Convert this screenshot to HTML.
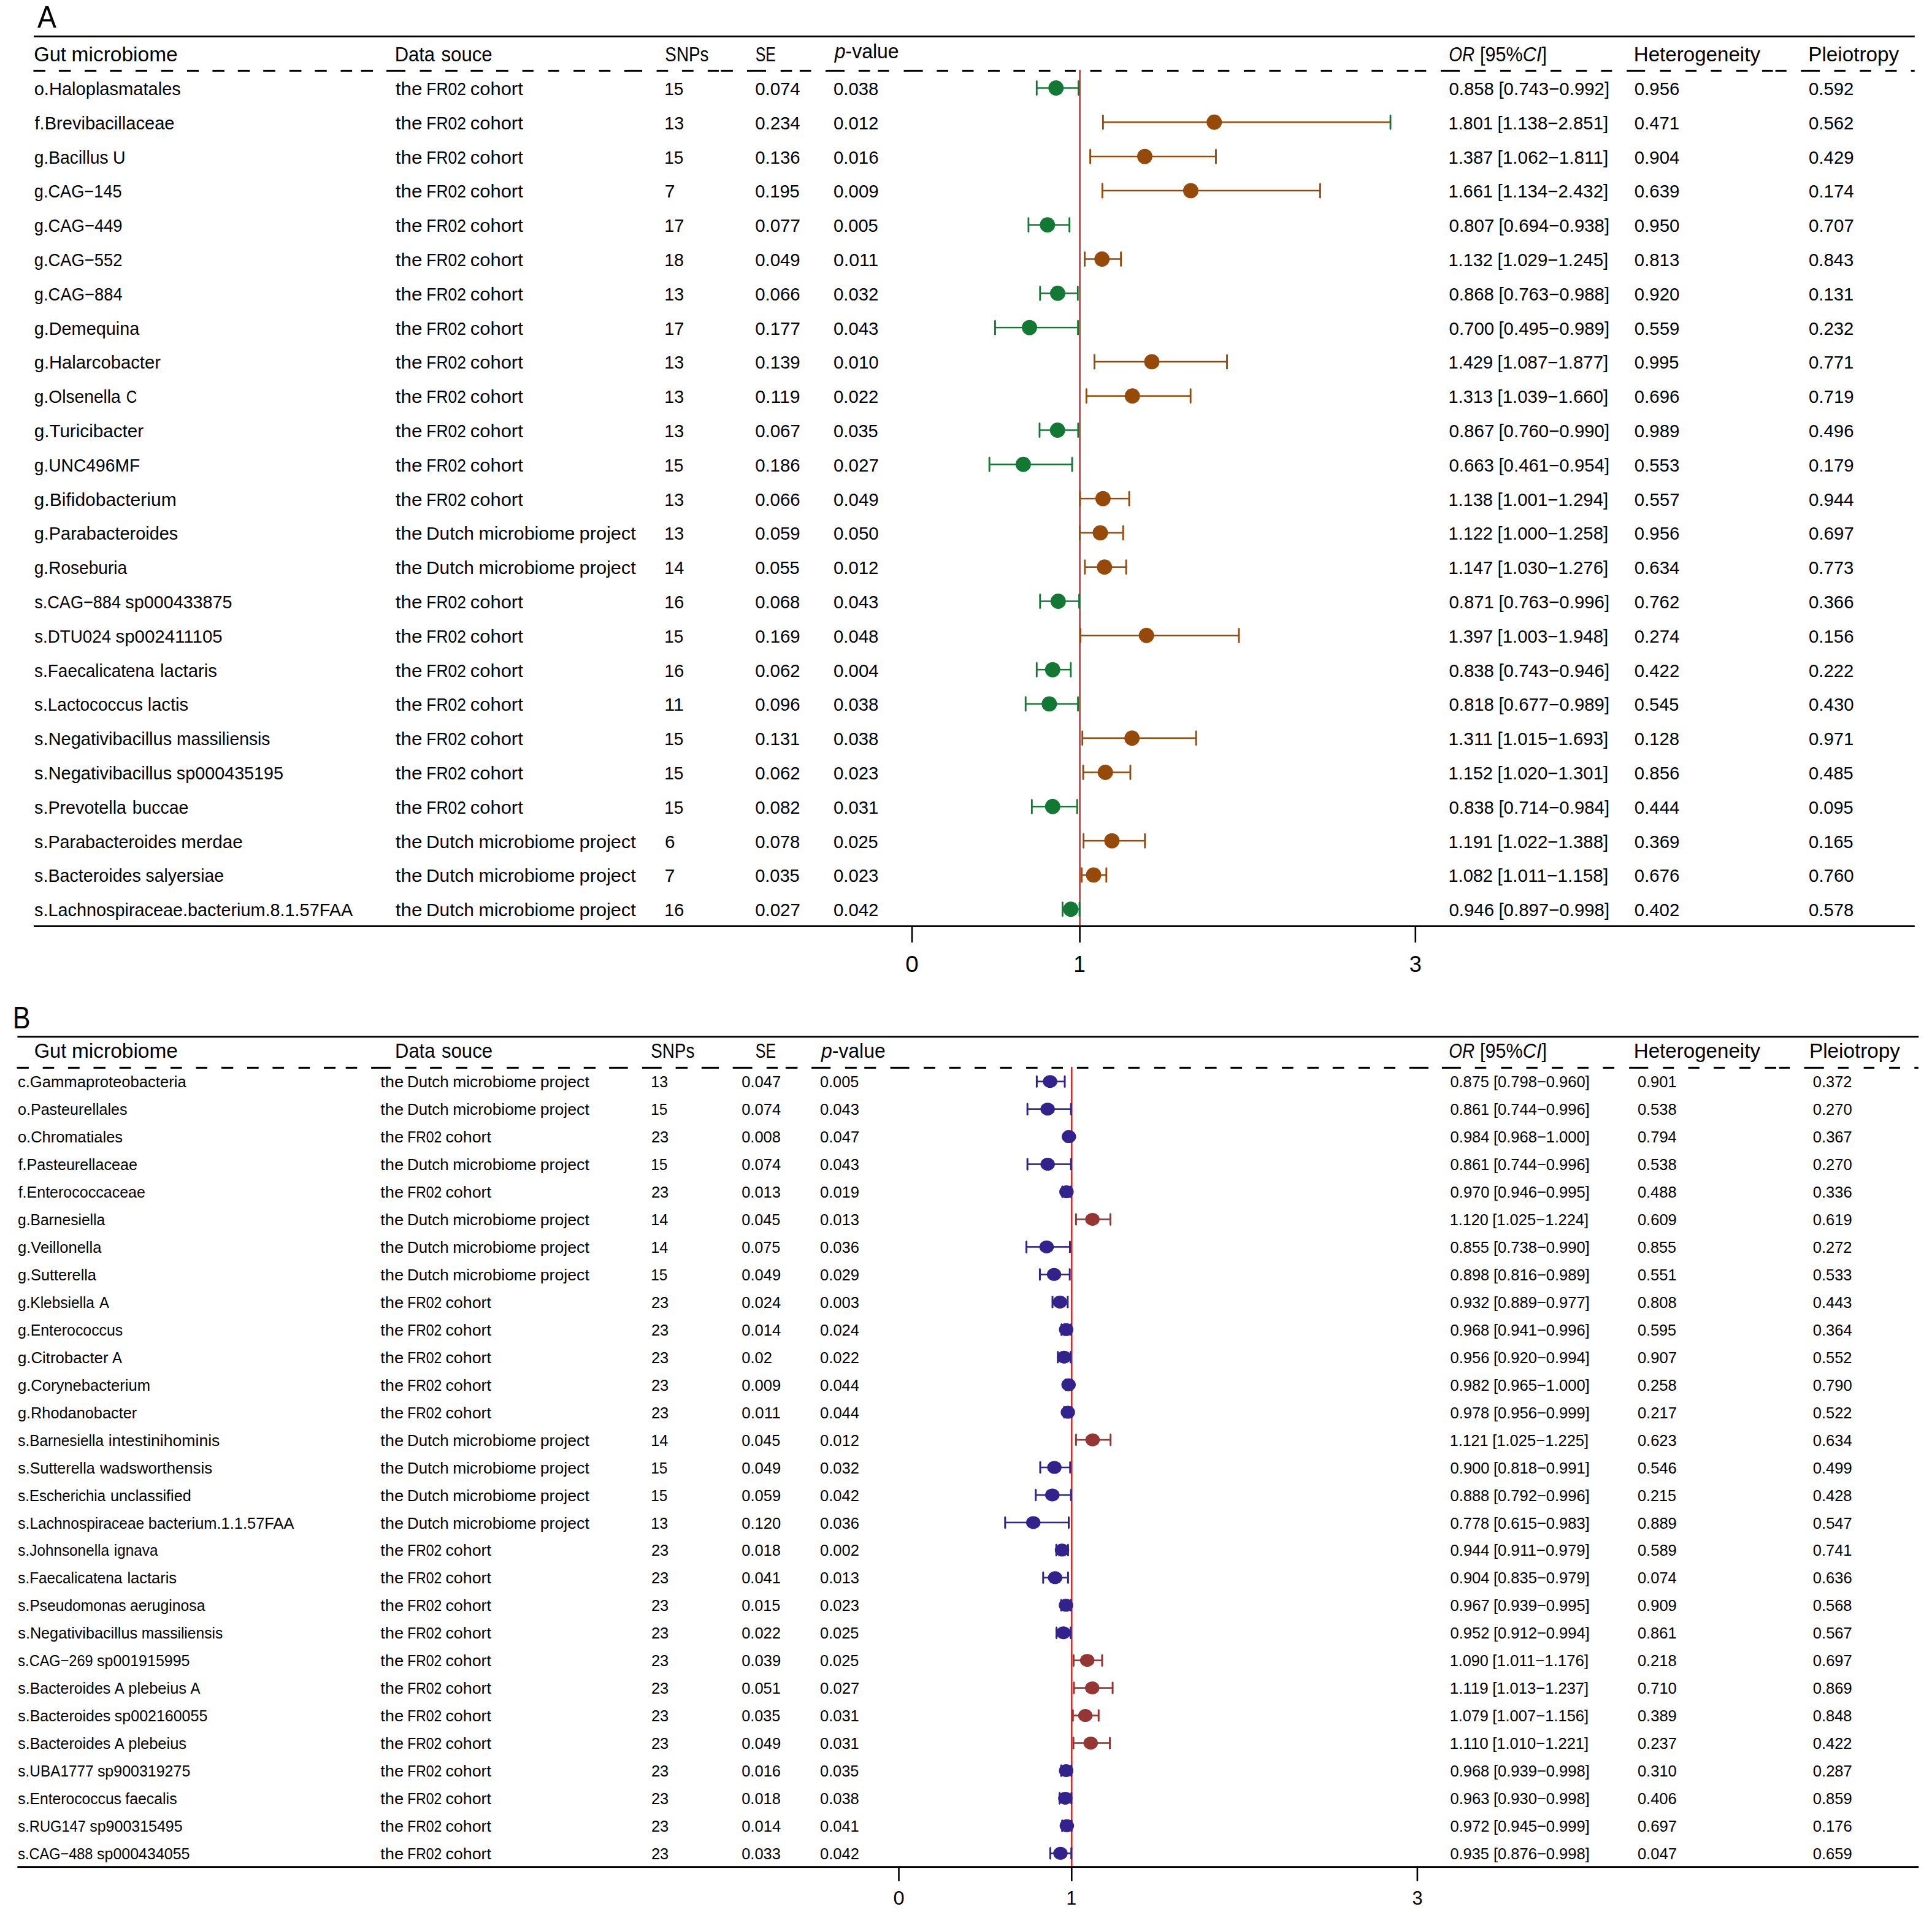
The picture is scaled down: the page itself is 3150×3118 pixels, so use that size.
<!DOCTYPE html>
<html><head><meta charset="utf-8"><title>Forest plot</title>
<style>html,body{margin:0;padding:0;background:#fff;}svg{display:block;}text{font-family:"Liberation Sans", sans-serif;}</style>
</head><body>
<svg width="3150" height="3118" viewBox="0 0 3150 3118">
<rect width="3150" height="3118" fill="#fff"/>
<text x="60.91" y="44.80" font-size="50.17" textLength="30.92" lengthAdjust="spacingAndGlyphs" fill="#000">A</text>
<rect x="55.00" y="57.95" width="3066.80" height="2.90" fill="#000"/>
<text x="55.36" y="100.20" font-size="32.92" textLength="52.57" lengthAdjust="spacingAndGlyphs" fill="#000">Gut</text>
<text x="116.60" y="100.20" font-size="32.92" textLength="173.08" lengthAdjust="spacingAndGlyphs" fill="#000">microbiome</text>
<text x="643.66" y="100.20" font-size="32.92" textLength="65.33" lengthAdjust="spacingAndGlyphs" fill="#000">Data</text>
<text x="719.48" y="100.20" font-size="32.92" textLength="83.23" lengthAdjust="spacingAndGlyphs" fill="#000">souce</text>
<text x="1084.34" y="100.20" font-size="32.92" textLength="71.18" lengthAdjust="spacingAndGlyphs" fill="#000">SNPs</text>
<text x="1231.67" y="100.20" font-size="32.92" textLength="33.23" lengthAdjust="spacingAndGlyphs" fill="#000">SE</text>
<text x="1360.80" y="95.40" font-size="32.92" textLength="104.80" lengthAdjust="spacingAndGlyphs" fill="#000"><tspan font-style="italic">p</tspan>-value</text>
<text x="2362.29" y="100.20" font-size="32.92" textLength="41.77" lengthAdjust="spacingAndGlyphs" fill="#000"><tspan font-style="italic">OR</tspan></text>
<text x="2413.07" y="100.20" font-size="32.92" textLength="108.85" lengthAdjust="spacingAndGlyphs" fill="#000">[95%<tspan font-style="italic">CI</tspan>]</text>
<text x="2663.78" y="100.20" font-size="32.92" textLength="206.19" lengthAdjust="spacingAndGlyphs" fill="#000">Heterogeneity</text>
<text x="2948.27" y="100.20" font-size="32.92" textLength="147.91" lengthAdjust="spacingAndGlyphs" fill="#000">Pleiotropy</text>
<rect x="54.50" y="113.90" width="19.50" height="3.00" fill="#000"/>
<rect x="95.90" y="113.90" width="19.50" height="3.00" fill="#000"/>
<rect x="138.10" y="113.90" width="19.10" height="3.00" fill="#000"/>
<rect x="179.50" y="113.90" width="19.10" height="3.00" fill="#000"/>
<rect x="221.00" y="113.90" width="19.00" height="3.00" fill="#000"/>
<rect x="262.80" y="113.90" width="19.40" height="3.00" fill="#000"/>
<rect x="305.00" y="113.90" width="19.00" height="3.00" fill="#000"/>
<rect x="346.40" y="113.90" width="19.50" height="3.00" fill="#000"/>
<rect x="387.80" y="113.90" width="19.50" height="3.00" fill="#000"/>
<rect x="429.20" y="113.90" width="19.50" height="3.00" fill="#000"/>
<rect x="471.90" y="113.90" width="19.50" height="3.00" fill="#000"/>
<rect x="513.30" y="113.90" width="19.40" height="3.00" fill="#000"/>
<rect x="555.50" y="113.90" width="18.60" height="3.00" fill="#000"/>
<rect x="588.60" y="113.90" width="19.40" height="3.00" fill="#000"/>
<rect x="630.00" y="113.90" width="31.00" height="3.00" fill="#000"/>
<rect x="684.50" y="113.90" width="19.10" height="3.00" fill="#000"/>
<rect x="726.10" y="113.90" width="19.80" height="3.00" fill="#000"/>
<rect x="767.50" y="113.90" width="19.90" height="3.00" fill="#000"/>
<rect x="808.90" y="113.90" width="19.90" height="3.00" fill="#000"/>
<rect x="851.60" y="113.90" width="18.20" height="3.00" fill="#000"/>
<rect x="893.80" y="113.90" width="17.80" height="3.00" fill="#000"/>
<rect x="935.20" y="113.90" width="18.70" height="3.00" fill="#000"/>
<rect x="976.60" y="113.90" width="18.70" height="3.00" fill="#000"/>
<rect x="1018.00" y="113.90" width="29.00" height="3.00" fill="#000"/>
<rect x="1070.60" y="113.90" width="18.70" height="3.00" fill="#000"/>
<rect x="1112.00" y="113.90" width="18.70" height="3.00" fill="#000"/>
<rect x="1153.90" y="113.90" width="18.10" height="3.00" fill="#000"/>
<rect x="1175.40" y="113.90" width="19.50" height="3.00" fill="#000"/>
<rect x="1218.00" y="113.90" width="31.00" height="3.00" fill="#000"/>
<rect x="1272.70" y="113.90" width="18.60" height="3.00" fill="#000"/>
<rect x="1303.80" y="113.90" width="18.60" height="3.00" fill="#000"/>
<rect x="1346.00" y="113.90" width="31.00" height="3.00" fill="#000"/>
<rect x="1399.80" y="113.90" width="18.70" height="3.00" fill="#000"/>
<rect x="1431.30" y="113.90" width="18.20" height="3.00" fill="#000"/>
<rect x="1473.50" y="113.90" width="31.10" height="3.00" fill="#000"/>
<rect x="1527.40" y="113.90" width="18.60" height="3.00" fill="#000"/>
<rect x="1568.80" y="113.90" width="18.60" height="3.00" fill="#000"/>
<rect x="1611.00" y="113.90" width="19.00" height="3.00" fill="#000"/>
<rect x="1652.40" y="113.90" width="18.60" height="3.00" fill="#000"/>
<rect x="1693.80" y="113.90" width="18.70" height="3.00" fill="#000"/>
<rect x="1736.00" y="113.90" width="17.90" height="3.00" fill="#000"/>
<rect x="1777.50" y="113.90" width="18.50" height="3.00" fill="#000"/>
<rect x="1818.90" y="113.90" width="19.10" height="3.00" fill="#000"/>
<rect x="1861.50" y="113.90" width="18.50" height="3.00" fill="#000"/>
<rect x="1903.00" y="113.90" width="18.60" height="3.00" fill="#000"/>
<rect x="1944.30" y="113.90" width="18.70" height="3.00" fill="#000"/>
<rect x="1985.80" y="113.90" width="18.60" height="3.00" fill="#000"/>
<rect x="2028.00" y="113.90" width="18.60" height="3.00" fill="#000"/>
<rect x="2069.40" y="113.90" width="18.60" height="3.00" fill="#000"/>
<rect x="2112.00" y="113.90" width="18.60" height="3.00" fill="#000"/>
<rect x="2153.50" y="113.90" width="18.50" height="3.00" fill="#000"/>
<rect x="2195.00" y="113.90" width="18.50" height="3.00" fill="#000"/>
<rect x="2236.30" y="113.90" width="18.70" height="3.00" fill="#000"/>
<rect x="2277.70" y="113.90" width="18.60" height="3.00" fill="#000"/>
<rect x="2306.70" y="113.90" width="18.60" height="3.00" fill="#000"/>
<rect x="2349.00" y="113.90" width="31.00" height="3.00" fill="#000"/>
<rect x="2404.00" y="113.90" width="18.60" height="3.00" fill="#000"/>
<rect x="2445.80" y="113.90" width="17.50" height="3.00" fill="#000"/>
<rect x="2487.30" y="113.90" width="17.50" height="3.00" fill="#000"/>
<rect x="2528.10" y="113.90" width="17.50" height="3.00" fill="#000"/>
<rect x="2569.60" y="113.90" width="17.90" height="3.00" fill="#000"/>
<rect x="2610.40" y="113.90" width="17.90" height="3.00" fill="#000"/>
<rect x="2652.30" y="113.90" width="29.90" height="3.00" fill="#000"/>
<rect x="2706.70" y="113.90" width="17.50" height="3.00" fill="#000"/>
<rect x="2748.20" y="113.90" width="17.90" height="3.00" fill="#000"/>
<rect x="2789.40" y="113.90" width="17.40" height="3.00" fill="#000"/>
<rect x="2830.90" y="113.90" width="18.50" height="3.00" fill="#000"/>
<rect x="2873.00" y="113.90" width="17.60" height="3.00" fill="#000"/>
<rect x="2894.60" y="113.90" width="18.10" height="3.00" fill="#000"/>
<rect x="2936.30" y="113.90" width="31.00" height="3.00" fill="#000"/>
<rect x="2990.60" y="113.90" width="18.40" height="3.00" fill="#000"/>
<rect x="3032.30" y="113.90" width="18.50" height="3.00" fill="#000"/>
<rect x="3074.00" y="113.90" width="18.50" height="3.00" fill="#000"/>
<rect x="3115.70" y="113.90" width="6.00" height="3.00" fill="#000"/>
<text x="55.68" y="155.00" font-size="29.84" textLength="239.18" lengthAdjust="spacingAndGlyphs" fill="#000">o.Haloplasmatales</text>
<text x="644.72" y="155.00" font-size="29.84" textLength="43.64" lengthAdjust="spacingAndGlyphs" fill="#000">the</text>
<text x="695.35" y="155.00" font-size="29.84" textLength="64.49" lengthAdjust="spacingAndGlyphs" fill="#000">FR02</text>
<text x="766.87" y="155.00" font-size="29.84" textLength="85.87" lengthAdjust="spacingAndGlyphs" fill="#000">cohort</text>
<text x="1083.27" y="155.00" font-size="29.84" textLength="31.08" lengthAdjust="spacingAndGlyphs" fill="#000">15</text>
<text x="1231.15" y="155.00" font-size="29.84" textLength="73.60" lengthAdjust="spacingAndGlyphs" fill="#000">0.074</text>
<text x="1359.06" y="155.00" font-size="29.84" textLength="73.26" lengthAdjust="spacingAndGlyphs" fill="#000">0.038</text>
<text x="2362.56" y="155.00" font-size="29.84" textLength="73.26" lengthAdjust="spacingAndGlyphs" fill="#000">0.858</text>
<text x="2443.46" y="155.00" font-size="29.84" textLength="180.66" lengthAdjust="spacingAndGlyphs" fill="#000">[0.743−0.992]</text>
<text x="2664.85" y="155.00" font-size="29.84" textLength="73.45" lengthAdjust="spacingAndGlyphs" fill="#000">0.956</text>
<text x="2949.05" y="155.00" font-size="29.84" textLength="73.39" lengthAdjust="spacingAndGlyphs" fill="#000">0.592</text>
<text x="56.49" y="210.80" font-size="29.84" textLength="228.03" lengthAdjust="spacingAndGlyphs" fill="#000">f.Brevibacillaceae</text>
<text x="644.72" y="210.80" font-size="29.84" textLength="43.64" lengthAdjust="spacingAndGlyphs" fill="#000">the</text>
<text x="695.35" y="210.80" font-size="29.84" textLength="64.49" lengthAdjust="spacingAndGlyphs" fill="#000">FR02</text>
<text x="766.87" y="210.80" font-size="29.84" textLength="85.87" lengthAdjust="spacingAndGlyphs" fill="#000">cohort</text>
<text x="1083.22" y="210.80" font-size="29.84" textLength="31.90" lengthAdjust="spacingAndGlyphs" fill="#000">13</text>
<text x="1231.15" y="210.80" font-size="29.84" textLength="73.60" lengthAdjust="spacingAndGlyphs" fill="#000">0.234</text>
<text x="1359.05" y="210.80" font-size="29.84" textLength="73.39" lengthAdjust="spacingAndGlyphs" fill="#000">0.012</text>
<text x="2361.50" y="210.80" font-size="29.84" textLength="72.36" lengthAdjust="spacingAndGlyphs" fill="#000">1.801</text>
<text x="2441.53" y="210.80" font-size="29.84" textLength="180.66" lengthAdjust="spacingAndGlyphs" fill="#000">[1.138−2.851]</text>
<text x="2664.86" y="210.80" font-size="29.84" textLength="73.26" lengthAdjust="spacingAndGlyphs" fill="#000">0.471</text>
<text x="2949.05" y="210.80" font-size="29.84" textLength="73.39" lengthAdjust="spacingAndGlyphs" fill="#000">0.562</text>
<text x="55.71" y="266.60" font-size="29.84" textLength="120.89" lengthAdjust="spacingAndGlyphs" fill="#000">g.Bacillus</text>
<text x="183.89" y="266.60" font-size="29.84" textLength="20.55" lengthAdjust="spacingAndGlyphs" fill="#000">U</text>
<text x="644.72" y="266.60" font-size="29.84" textLength="43.64" lengthAdjust="spacingAndGlyphs" fill="#000">the</text>
<text x="695.35" y="266.60" font-size="29.84" textLength="64.49" lengthAdjust="spacingAndGlyphs" fill="#000">FR02</text>
<text x="766.87" y="266.60" font-size="29.84" textLength="85.87" lengthAdjust="spacingAndGlyphs" fill="#000">cohort</text>
<text x="1083.27" y="266.60" font-size="29.84" textLength="31.08" lengthAdjust="spacingAndGlyphs" fill="#000">15</text>
<text x="1231.15" y="266.60" font-size="29.84" textLength="73.45" lengthAdjust="spacingAndGlyphs" fill="#000">0.136</text>
<text x="1359.05" y="266.60" font-size="29.84" textLength="73.45" lengthAdjust="spacingAndGlyphs" fill="#000">0.016</text>
<text x="2361.48" y="266.60" font-size="29.84" textLength="72.84" lengthAdjust="spacingAndGlyphs" fill="#000">1.387</text>
<text x="2441.53" y="266.60" font-size="29.84" textLength="180.66" lengthAdjust="spacingAndGlyphs" fill="#000">[1.062−1.811]</text>
<text x="2664.85" y="266.60" font-size="29.84" textLength="73.60" lengthAdjust="spacingAndGlyphs" fill="#000">0.904</text>
<text x="2949.05" y="266.60" font-size="29.84" textLength="73.57" lengthAdjust="spacingAndGlyphs" fill="#000">0.429</text>
<text x="55.76" y="322.40" font-size="29.84" textLength="142.89" lengthAdjust="spacingAndGlyphs" fill="#000">g.CAG−145</text>
<text x="644.72" y="322.40" font-size="29.84" textLength="43.64" lengthAdjust="spacingAndGlyphs" fill="#000">the</text>
<text x="695.35" y="322.40" font-size="29.84" textLength="64.49" lengthAdjust="spacingAndGlyphs" fill="#000">FR02</text>
<text x="766.87" y="322.40" font-size="29.84" textLength="85.87" lengthAdjust="spacingAndGlyphs" fill="#000">cohort</text>
<text x="1083.86" y="322.40" font-size="29.84" textLength="16.71" lengthAdjust="spacingAndGlyphs" fill="#000">7</text>
<text x="1231.17" y="322.40" font-size="29.84" textLength="72.59" lengthAdjust="spacingAndGlyphs" fill="#000">0.195</text>
<text x="1359.05" y="322.40" font-size="29.84" textLength="73.57" lengthAdjust="spacingAndGlyphs" fill="#000">0.009</text>
<text x="2361.50" y="322.40" font-size="29.84" textLength="72.36" lengthAdjust="spacingAndGlyphs" fill="#000">1.661</text>
<text x="2441.53" y="322.40" font-size="29.84" textLength="180.66" lengthAdjust="spacingAndGlyphs" fill="#000">[1.134−2.432]</text>
<text x="2664.85" y="322.40" font-size="29.84" textLength="73.57" lengthAdjust="spacingAndGlyphs" fill="#000">0.639</text>
<text x="2949.05" y="322.40" font-size="29.84" textLength="73.60" lengthAdjust="spacingAndGlyphs" fill="#000">0.174</text>
<text x="55.75" y="378.20" font-size="29.84" textLength="143.85" lengthAdjust="spacingAndGlyphs" fill="#000">g.CAG−449</text>
<text x="644.72" y="378.20" font-size="29.84" textLength="43.64" lengthAdjust="spacingAndGlyphs" fill="#000">the</text>
<text x="695.35" y="378.20" font-size="29.84" textLength="64.49" lengthAdjust="spacingAndGlyphs" fill="#000">FR02</text>
<text x="766.87" y="378.20" font-size="29.84" textLength="85.87" lengthAdjust="spacingAndGlyphs" fill="#000">cohort</text>
<text x="1083.19" y="378.20" font-size="29.84" textLength="32.31" lengthAdjust="spacingAndGlyphs" fill="#000">17</text>
<text x="1231.15" y="378.20" font-size="29.84" textLength="73.73" lengthAdjust="spacingAndGlyphs" fill="#000">0.077</text>
<text x="1359.07" y="378.20" font-size="29.84" textLength="72.59" lengthAdjust="spacingAndGlyphs" fill="#000">0.005</text>
<text x="2362.55" y="378.20" font-size="29.84" textLength="73.73" lengthAdjust="spacingAndGlyphs" fill="#000">0.807</text>
<text x="2443.46" y="378.20" font-size="29.84" textLength="180.66" lengthAdjust="spacingAndGlyphs" fill="#000">[0.694−0.938]</text>
<text x="2664.85" y="378.20" font-size="29.84" textLength="73.59" lengthAdjust="spacingAndGlyphs" fill="#000">0.950</text>
<text x="2949.05" y="378.20" font-size="29.84" textLength="73.73" lengthAdjust="spacingAndGlyphs" fill="#000">0.707</text>
<text x="55.75" y="434.00" font-size="29.84" textLength="143.66" lengthAdjust="spacingAndGlyphs" fill="#000">g.CAG−552</text>
<text x="644.72" y="434.00" font-size="29.84" textLength="43.64" lengthAdjust="spacingAndGlyphs" fill="#000">the</text>
<text x="695.35" y="434.00" font-size="29.84" textLength="64.49" lengthAdjust="spacingAndGlyphs" fill="#000">FR02</text>
<text x="766.87" y="434.00" font-size="29.84" textLength="85.87" lengthAdjust="spacingAndGlyphs" fill="#000">cohort</text>
<text x="1083.22" y="434.00" font-size="29.84" textLength="31.81" lengthAdjust="spacingAndGlyphs" fill="#000">18</text>
<text x="1231.15" y="434.00" font-size="29.84" textLength="73.57" lengthAdjust="spacingAndGlyphs" fill="#000">0.049</text>
<text x="1359.06" y="434.00" font-size="29.84" textLength="73.26" lengthAdjust="spacingAndGlyphs" fill="#000">0.011</text>
<text x="2361.49" y="434.00" font-size="29.84" textLength="72.49" lengthAdjust="spacingAndGlyphs" fill="#000">1.132</text>
<text x="2441.53" y="434.00" font-size="29.84" textLength="180.66" lengthAdjust="spacingAndGlyphs" fill="#000">[1.029−1.245]</text>
<text x="2664.86" y="434.00" font-size="29.84" textLength="73.34" lengthAdjust="spacingAndGlyphs" fill="#000">0.813</text>
<text x="2949.06" y="434.00" font-size="29.84" textLength="73.34" lengthAdjust="spacingAndGlyphs" fill="#000">0.843</text>
<text x="55.75" y="489.80" font-size="29.84" textLength="143.92" lengthAdjust="spacingAndGlyphs" fill="#000">g.CAG−884</text>
<text x="644.72" y="489.80" font-size="29.84" textLength="43.64" lengthAdjust="spacingAndGlyphs" fill="#000">the</text>
<text x="695.35" y="489.80" font-size="29.84" textLength="64.49" lengthAdjust="spacingAndGlyphs" fill="#000">FR02</text>
<text x="766.87" y="489.80" font-size="29.84" textLength="85.87" lengthAdjust="spacingAndGlyphs" fill="#000">cohort</text>
<text x="1083.22" y="489.80" font-size="29.84" textLength="31.90" lengthAdjust="spacingAndGlyphs" fill="#000">13</text>
<text x="1231.15" y="489.80" font-size="29.84" textLength="73.45" lengthAdjust="spacingAndGlyphs" fill="#000">0.066</text>
<text x="1359.05" y="489.80" font-size="29.84" textLength="73.39" lengthAdjust="spacingAndGlyphs" fill="#000">0.032</text>
<text x="2362.56" y="489.80" font-size="29.84" textLength="73.26" lengthAdjust="spacingAndGlyphs" fill="#000">0.868</text>
<text x="2443.46" y="489.80" font-size="29.84" textLength="180.66" lengthAdjust="spacingAndGlyphs" fill="#000">[0.763−0.988]</text>
<text x="2664.85" y="489.80" font-size="29.84" textLength="73.59" lengthAdjust="spacingAndGlyphs" fill="#000">0.920</text>
<text x="2949.06" y="489.80" font-size="29.84" textLength="73.26" lengthAdjust="spacingAndGlyphs" fill="#000">0.131</text>
<text x="55.69" y="545.60" font-size="29.84" textLength="171.59" lengthAdjust="spacingAndGlyphs" fill="#000">g.Demequina</text>
<text x="644.72" y="545.60" font-size="29.84" textLength="43.64" lengthAdjust="spacingAndGlyphs" fill="#000">the</text>
<text x="695.35" y="545.60" font-size="29.84" textLength="64.49" lengthAdjust="spacingAndGlyphs" fill="#000">FR02</text>
<text x="766.87" y="545.60" font-size="29.84" textLength="85.87" lengthAdjust="spacingAndGlyphs" fill="#000">cohort</text>
<text x="1083.19" y="545.60" font-size="29.84" textLength="32.31" lengthAdjust="spacingAndGlyphs" fill="#000">17</text>
<text x="1231.15" y="545.60" font-size="29.84" textLength="73.73" lengthAdjust="spacingAndGlyphs" fill="#000">0.177</text>
<text x="1359.06" y="545.60" font-size="29.84" textLength="73.34" lengthAdjust="spacingAndGlyphs" fill="#000">0.043</text>
<text x="2362.55" y="545.60" font-size="29.84" textLength="73.59" lengthAdjust="spacingAndGlyphs" fill="#000">0.700</text>
<text x="2443.46" y="545.60" font-size="29.84" textLength="180.66" lengthAdjust="spacingAndGlyphs" fill="#000">[0.495−0.989]</text>
<text x="2664.85" y="545.60" font-size="29.84" textLength="73.57" lengthAdjust="spacingAndGlyphs" fill="#000">0.559</text>
<text x="2949.05" y="545.60" font-size="29.84" textLength="73.39" lengthAdjust="spacingAndGlyphs" fill="#000">0.232</text>
<text x="55.67" y="601.40" font-size="29.84" textLength="206.20" lengthAdjust="spacingAndGlyphs" fill="#000">g.Halarcobacter</text>
<text x="644.72" y="601.40" font-size="29.84" textLength="43.64" lengthAdjust="spacingAndGlyphs" fill="#000">the</text>
<text x="695.35" y="601.40" font-size="29.84" textLength="64.49" lengthAdjust="spacingAndGlyphs" fill="#000">FR02</text>
<text x="766.87" y="601.40" font-size="29.84" textLength="85.87" lengthAdjust="spacingAndGlyphs" fill="#000">cohort</text>
<text x="1083.22" y="601.40" font-size="29.84" textLength="31.90" lengthAdjust="spacingAndGlyphs" fill="#000">13</text>
<text x="1231.15" y="601.40" font-size="29.84" textLength="73.57" lengthAdjust="spacingAndGlyphs" fill="#000">0.139</text>
<text x="1359.05" y="601.40" font-size="29.84" textLength="73.59" lengthAdjust="spacingAndGlyphs" fill="#000">0.010</text>
<text x="2361.49" y="601.40" font-size="29.84" textLength="72.68" lengthAdjust="spacingAndGlyphs" fill="#000">1.429</text>
<text x="2441.53" y="601.40" font-size="29.84" textLength="180.66" lengthAdjust="spacingAndGlyphs" fill="#000">[1.087−1.877]</text>
<text x="2664.87" y="601.40" font-size="29.84" textLength="72.59" lengthAdjust="spacingAndGlyphs" fill="#000">0.995</text>
<text x="2949.06" y="601.40" font-size="29.84" textLength="73.26" lengthAdjust="spacingAndGlyphs" fill="#000">0.771</text>
<text x="55.72" y="657.20" font-size="29.84" textLength="141.07" lengthAdjust="spacingAndGlyphs" fill="#000">g.Olsenella</text>
<text x="205.81" y="657.20" font-size="29.84" textLength="17.55" lengthAdjust="spacingAndGlyphs" fill="#000">C</text>
<text x="644.72" y="657.20" font-size="29.84" textLength="43.64" lengthAdjust="spacingAndGlyphs" fill="#000">the</text>
<text x="695.35" y="657.20" font-size="29.84" textLength="64.49" lengthAdjust="spacingAndGlyphs" fill="#000">FR02</text>
<text x="766.87" y="657.20" font-size="29.84" textLength="85.87" lengthAdjust="spacingAndGlyphs" fill="#000">cohort</text>
<text x="1083.22" y="657.20" font-size="29.84" textLength="31.90" lengthAdjust="spacingAndGlyphs" fill="#000">13</text>
<text x="1231.15" y="657.20" font-size="29.84" textLength="73.57" lengthAdjust="spacingAndGlyphs" fill="#000">0.119</text>
<text x="1359.05" y="657.20" font-size="29.84" textLength="73.39" lengthAdjust="spacingAndGlyphs" fill="#000">0.022</text>
<text x="2361.49" y="657.20" font-size="29.84" textLength="72.45" lengthAdjust="spacingAndGlyphs" fill="#000">1.313</text>
<text x="2441.53" y="657.20" font-size="29.84" textLength="180.66" lengthAdjust="spacingAndGlyphs" fill="#000">[1.039−1.660]</text>
<text x="2664.85" y="657.20" font-size="29.84" textLength="73.45" lengthAdjust="spacingAndGlyphs" fill="#000">0.696</text>
<text x="2949.05" y="657.20" font-size="29.84" textLength="73.57" lengthAdjust="spacingAndGlyphs" fill="#000">0.719</text>
<text x="55.66" y="713.00" font-size="29.84" textLength="178.49" lengthAdjust="spacingAndGlyphs" fill="#000">g.Turicibacter</text>
<text x="644.72" y="713.00" font-size="29.84" textLength="43.64" lengthAdjust="spacingAndGlyphs" fill="#000">the</text>
<text x="695.35" y="713.00" font-size="29.84" textLength="64.49" lengthAdjust="spacingAndGlyphs" fill="#000">FR02</text>
<text x="766.87" y="713.00" font-size="29.84" textLength="85.87" lengthAdjust="spacingAndGlyphs" fill="#000">cohort</text>
<text x="1083.22" y="713.00" font-size="29.84" textLength="31.90" lengthAdjust="spacingAndGlyphs" fill="#000">13</text>
<text x="1231.15" y="713.00" font-size="29.84" textLength="73.73" lengthAdjust="spacingAndGlyphs" fill="#000">0.067</text>
<text x="1359.07" y="713.00" font-size="29.84" textLength="72.59" lengthAdjust="spacingAndGlyphs" fill="#000">0.035</text>
<text x="2362.55" y="713.00" font-size="29.84" textLength="73.73" lengthAdjust="spacingAndGlyphs" fill="#000">0.867</text>
<text x="2443.46" y="713.00" font-size="29.84" textLength="180.66" lengthAdjust="spacingAndGlyphs" fill="#000">[0.760−0.990]</text>
<text x="2664.85" y="713.00" font-size="29.84" textLength="73.57" lengthAdjust="spacingAndGlyphs" fill="#000">0.989</text>
<text x="2949.05" y="713.00" font-size="29.84" textLength="73.45" lengthAdjust="spacingAndGlyphs" fill="#000">0.496</text>
<text x="55.71" y="768.80" font-size="29.84" textLength="172.50" lengthAdjust="spacingAndGlyphs" fill="#000">g.UNC496MF</text>
<text x="644.72" y="768.80" font-size="29.84" textLength="43.64" lengthAdjust="spacingAndGlyphs" fill="#000">the</text>
<text x="695.35" y="768.80" font-size="29.84" textLength="64.49" lengthAdjust="spacingAndGlyphs" fill="#000">FR02</text>
<text x="766.87" y="768.80" font-size="29.84" textLength="85.87" lengthAdjust="spacingAndGlyphs" fill="#000">cohort</text>
<text x="1083.27" y="768.80" font-size="29.84" textLength="31.08" lengthAdjust="spacingAndGlyphs" fill="#000">15</text>
<text x="1231.15" y="768.80" font-size="29.84" textLength="73.45" lengthAdjust="spacingAndGlyphs" fill="#000">0.186</text>
<text x="1359.05" y="768.80" font-size="29.84" textLength="73.73" lengthAdjust="spacingAndGlyphs" fill="#000">0.027</text>
<text x="2362.56" y="768.80" font-size="29.84" textLength="73.34" lengthAdjust="spacingAndGlyphs" fill="#000">0.663</text>
<text x="2443.46" y="768.80" font-size="29.84" textLength="180.66" lengthAdjust="spacingAndGlyphs" fill="#000">[0.461−0.954]</text>
<text x="2664.86" y="768.80" font-size="29.84" textLength="73.34" lengthAdjust="spacingAndGlyphs" fill="#000">0.553</text>
<text x="2949.05" y="768.80" font-size="29.84" textLength="73.57" lengthAdjust="spacingAndGlyphs" fill="#000">0.179</text>
<text x="55.64" y="824.60" font-size="29.84" textLength="232.07" lengthAdjust="spacingAndGlyphs" fill="#000">g.Bifidobacterium</text>
<text x="644.72" y="824.60" font-size="29.84" textLength="43.64" lengthAdjust="spacingAndGlyphs" fill="#000">the</text>
<text x="695.35" y="824.60" font-size="29.84" textLength="64.49" lengthAdjust="spacingAndGlyphs" fill="#000">FR02</text>
<text x="766.87" y="824.60" font-size="29.84" textLength="85.87" lengthAdjust="spacingAndGlyphs" fill="#000">cohort</text>
<text x="1083.22" y="824.60" font-size="29.84" textLength="31.90" lengthAdjust="spacingAndGlyphs" fill="#000">13</text>
<text x="1231.15" y="824.60" font-size="29.84" textLength="73.45" lengthAdjust="spacingAndGlyphs" fill="#000">0.066</text>
<text x="1359.05" y="824.60" font-size="29.84" textLength="73.57" lengthAdjust="spacingAndGlyphs" fill="#000">0.049</text>
<text x="2361.50" y="824.60" font-size="29.84" textLength="72.37" lengthAdjust="spacingAndGlyphs" fill="#000">1.138</text>
<text x="2441.53" y="824.60" font-size="29.84" textLength="180.66" lengthAdjust="spacingAndGlyphs" fill="#000">[1.001−1.294]</text>
<text x="2664.85" y="824.60" font-size="29.84" textLength="73.73" lengthAdjust="spacingAndGlyphs" fill="#000">0.557</text>
<text x="2949.05" y="824.60" font-size="29.84" textLength="73.60" lengthAdjust="spacingAndGlyphs" fill="#000">0.944</text>
<text x="55.69" y="880.40" font-size="29.84" textLength="234.60" lengthAdjust="spacingAndGlyphs" fill="#000">g.Parabacteroides</text>
<text x="644.72" y="880.40" font-size="29.84" textLength="43.64" lengthAdjust="spacingAndGlyphs" fill="#000">the</text>
<text x="695.08" y="880.40" font-size="29.84" textLength="77.82" lengthAdjust="spacingAndGlyphs" fill="#000">Dutch</text>
<text x="780.43" y="880.40" font-size="29.84" textLength="156.90" lengthAdjust="spacingAndGlyphs" fill="#000">microbiome</text>
<text x="944.60" y="880.40" font-size="29.84" textLength="92.11" lengthAdjust="spacingAndGlyphs" fill="#000">project</text>
<text x="1083.22" y="880.40" font-size="29.84" textLength="31.90" lengthAdjust="spacingAndGlyphs" fill="#000">13</text>
<text x="1231.15" y="880.40" font-size="29.84" textLength="73.57" lengthAdjust="spacingAndGlyphs" fill="#000">0.059</text>
<text x="1359.05" y="880.40" font-size="29.84" textLength="73.59" lengthAdjust="spacingAndGlyphs" fill="#000">0.050</text>
<text x="2361.49" y="880.40" font-size="29.84" textLength="72.49" lengthAdjust="spacingAndGlyphs" fill="#000">1.122</text>
<text x="2441.53" y="880.40" font-size="29.84" textLength="180.66" lengthAdjust="spacingAndGlyphs" fill="#000">[1.000−1.258]</text>
<text x="2664.85" y="880.40" font-size="29.84" textLength="73.45" lengthAdjust="spacingAndGlyphs" fill="#000">0.956</text>
<text x="2949.05" y="880.40" font-size="29.84" textLength="73.73" lengthAdjust="spacingAndGlyphs" fill="#000">0.697</text>
<text x="55.72" y="936.20" font-size="29.84" textLength="151.49" lengthAdjust="spacingAndGlyphs" fill="#000">g.Roseburia</text>
<text x="644.72" y="936.20" font-size="29.84" textLength="43.64" lengthAdjust="spacingAndGlyphs" fill="#000">the</text>
<text x="695.08" y="936.20" font-size="29.84" textLength="77.82" lengthAdjust="spacingAndGlyphs" fill="#000">Dutch</text>
<text x="780.43" y="936.20" font-size="29.84" textLength="156.90" lengthAdjust="spacingAndGlyphs" fill="#000">microbiome</text>
<text x="944.60" y="936.20" font-size="29.84" textLength="92.11" lengthAdjust="spacingAndGlyphs" fill="#000">project</text>
<text x="1083.20" y="936.20" font-size="29.84" textLength="32.19" lengthAdjust="spacingAndGlyphs" fill="#000">14</text>
<text x="1231.17" y="936.20" font-size="29.84" textLength="72.59" lengthAdjust="spacingAndGlyphs" fill="#000">0.055</text>
<text x="1359.05" y="936.20" font-size="29.84" textLength="73.39" lengthAdjust="spacingAndGlyphs" fill="#000">0.012</text>
<text x="2361.48" y="936.20" font-size="29.84" textLength="72.84" lengthAdjust="spacingAndGlyphs" fill="#000">1.147</text>
<text x="2441.53" y="936.20" font-size="29.84" textLength="180.66" lengthAdjust="spacingAndGlyphs" fill="#000">[1.030−1.276]</text>
<text x="2664.85" y="936.20" font-size="29.84" textLength="73.60" lengthAdjust="spacingAndGlyphs" fill="#000">0.634</text>
<text x="2949.06" y="936.20" font-size="29.84" textLength="73.34" lengthAdjust="spacingAndGlyphs" fill="#000">0.773</text>
<text x="56.15" y="992.00" font-size="29.84" textLength="140.88" lengthAdjust="spacingAndGlyphs" fill="#000">s.CAG−884</text>
<text x="204.29" y="992.00" font-size="29.84" textLength="174.32" lengthAdjust="spacingAndGlyphs" fill="#000">sp000433875</text>
<text x="644.72" y="992.00" font-size="29.84" textLength="43.64" lengthAdjust="spacingAndGlyphs" fill="#000">the</text>
<text x="695.35" y="992.00" font-size="29.84" textLength="64.49" lengthAdjust="spacingAndGlyphs" fill="#000">FR02</text>
<text x="766.87" y="992.00" font-size="29.84" textLength="85.87" lengthAdjust="spacingAndGlyphs" fill="#000">cohort</text>
<text x="1083.21" y="992.00" font-size="29.84" textLength="32.02" lengthAdjust="spacingAndGlyphs" fill="#000">16</text>
<text x="1231.16" y="992.00" font-size="29.84" textLength="73.26" lengthAdjust="spacingAndGlyphs" fill="#000">0.068</text>
<text x="1359.06" y="992.00" font-size="29.84" textLength="73.34" lengthAdjust="spacingAndGlyphs" fill="#000">0.043</text>
<text x="2362.56" y="992.00" font-size="29.84" textLength="73.26" lengthAdjust="spacingAndGlyphs" fill="#000">0.871</text>
<text x="2443.46" y="992.00" font-size="29.84" textLength="180.66" lengthAdjust="spacingAndGlyphs" fill="#000">[0.763−0.996]</text>
<text x="2664.85" y="992.00" font-size="29.84" textLength="73.39" lengthAdjust="spacingAndGlyphs" fill="#000">0.762</text>
<text x="2949.05" y="992.00" font-size="29.84" textLength="73.45" lengthAdjust="spacingAndGlyphs" fill="#000">0.366</text>
<text x="56.13" y="1047.80" font-size="29.84" textLength="125.02" lengthAdjust="spacingAndGlyphs" fill="#000">s.DTU024</text>
<text x="188.40" y="1047.80" font-size="29.84" textLength="174.32" lengthAdjust="spacingAndGlyphs" fill="#000">sp002411105</text>
<text x="644.72" y="1047.80" font-size="29.84" textLength="43.64" lengthAdjust="spacingAndGlyphs" fill="#000">the</text>
<text x="695.35" y="1047.80" font-size="29.84" textLength="64.49" lengthAdjust="spacingAndGlyphs" fill="#000">FR02</text>
<text x="766.87" y="1047.80" font-size="29.84" textLength="85.87" lengthAdjust="spacingAndGlyphs" fill="#000">cohort</text>
<text x="1083.27" y="1047.80" font-size="29.84" textLength="31.08" lengthAdjust="spacingAndGlyphs" fill="#000">15</text>
<text x="1231.15" y="1047.80" font-size="29.84" textLength="73.57" lengthAdjust="spacingAndGlyphs" fill="#000">0.169</text>
<text x="1359.06" y="1047.80" font-size="29.84" textLength="73.26" lengthAdjust="spacingAndGlyphs" fill="#000">0.048</text>
<text x="2361.48" y="1047.80" font-size="29.84" textLength="72.84" lengthAdjust="spacingAndGlyphs" fill="#000">1.397</text>
<text x="2441.53" y="1047.80" font-size="29.84" textLength="180.66" lengthAdjust="spacingAndGlyphs" fill="#000">[1.003−1.948]</text>
<text x="2664.85" y="1047.80" font-size="29.84" textLength="73.60" lengthAdjust="spacingAndGlyphs" fill="#000">0.274</text>
<text x="2949.05" y="1047.80" font-size="29.84" textLength="73.45" lengthAdjust="spacingAndGlyphs" fill="#000">0.156</text>
<text x="56.12" y="1103.60" font-size="29.84" textLength="195.45" lengthAdjust="spacingAndGlyphs" fill="#000">s.Faecalicatena</text>
<text x="261.09" y="1103.60" font-size="29.84" textLength="92.93" lengthAdjust="spacingAndGlyphs" fill="#000">lactaris</text>
<text x="644.72" y="1103.60" font-size="29.84" textLength="43.64" lengthAdjust="spacingAndGlyphs" fill="#000">the</text>
<text x="695.35" y="1103.60" font-size="29.84" textLength="64.49" lengthAdjust="spacingAndGlyphs" fill="#000">FR02</text>
<text x="766.87" y="1103.60" font-size="29.84" textLength="85.87" lengthAdjust="spacingAndGlyphs" fill="#000">cohort</text>
<text x="1083.21" y="1103.60" font-size="29.84" textLength="32.02" lengthAdjust="spacingAndGlyphs" fill="#000">16</text>
<text x="1231.15" y="1103.60" font-size="29.84" textLength="73.39" lengthAdjust="spacingAndGlyphs" fill="#000">0.062</text>
<text x="1359.05" y="1103.60" font-size="29.84" textLength="73.60" lengthAdjust="spacingAndGlyphs" fill="#000">0.004</text>
<text x="2362.56" y="1103.60" font-size="29.84" textLength="73.26" lengthAdjust="spacingAndGlyphs" fill="#000">0.838</text>
<text x="2443.46" y="1103.60" font-size="29.84" textLength="180.66" lengthAdjust="spacingAndGlyphs" fill="#000">[0.743−0.946]</text>
<text x="2664.85" y="1103.60" font-size="29.84" textLength="73.39" lengthAdjust="spacingAndGlyphs" fill="#000">0.422</text>
<text x="2949.05" y="1103.60" font-size="29.84" textLength="73.39" lengthAdjust="spacingAndGlyphs" fill="#000">0.222</text>
<text x="56.12" y="1159.40" font-size="29.84" textLength="176.91" lengthAdjust="spacingAndGlyphs" fill="#000">s.Lactococcus</text>
<text x="240.67" y="1159.40" font-size="29.84" textLength="66.42" lengthAdjust="spacingAndGlyphs" fill="#000">lactis</text>
<text x="644.72" y="1159.40" font-size="29.84" textLength="43.64" lengthAdjust="spacingAndGlyphs" fill="#000">the</text>
<text x="695.35" y="1159.40" font-size="29.84" textLength="64.49" lengthAdjust="spacingAndGlyphs" fill="#000">FR02</text>
<text x="766.87" y="1159.40" font-size="29.84" textLength="85.87" lengthAdjust="spacingAndGlyphs" fill="#000">cohort</text>
<text x="1083.22" y="1159.40" font-size="29.84" textLength="31.81" lengthAdjust="spacingAndGlyphs" fill="#000">11</text>
<text x="1231.15" y="1159.40" font-size="29.84" textLength="73.45" lengthAdjust="spacingAndGlyphs" fill="#000">0.096</text>
<text x="1359.06" y="1159.40" font-size="29.84" textLength="73.26" lengthAdjust="spacingAndGlyphs" fill="#000">0.038</text>
<text x="2362.56" y="1159.40" font-size="29.84" textLength="73.26" lengthAdjust="spacingAndGlyphs" fill="#000">0.818</text>
<text x="2443.46" y="1159.40" font-size="29.84" textLength="180.66" lengthAdjust="spacingAndGlyphs" fill="#000">[0.677−0.989]</text>
<text x="2664.87" y="1159.40" font-size="29.84" textLength="72.59" lengthAdjust="spacingAndGlyphs" fill="#000">0.545</text>
<text x="2949.05" y="1159.40" font-size="29.84" textLength="73.59" lengthAdjust="spacingAndGlyphs" fill="#000">0.430</text>
<text x="56.09" y="1215.20" font-size="29.84" textLength="224.14" lengthAdjust="spacingAndGlyphs" fill="#000">s.Negativibacillus</text>
<text x="287.91" y="1215.20" font-size="29.84" textLength="152.59" lengthAdjust="spacingAndGlyphs" fill="#000">massiliensis</text>
<text x="644.72" y="1215.20" font-size="29.84" textLength="43.64" lengthAdjust="spacingAndGlyphs" fill="#000">the</text>
<text x="695.35" y="1215.20" font-size="29.84" textLength="64.49" lengthAdjust="spacingAndGlyphs" fill="#000">FR02</text>
<text x="766.87" y="1215.20" font-size="29.84" textLength="85.87" lengthAdjust="spacingAndGlyphs" fill="#000">cohort</text>
<text x="1083.27" y="1215.20" font-size="29.84" textLength="31.08" lengthAdjust="spacingAndGlyphs" fill="#000">15</text>
<text x="1231.16" y="1215.20" font-size="29.84" textLength="73.26" lengthAdjust="spacingAndGlyphs" fill="#000">0.131</text>
<text x="1359.06" y="1215.20" font-size="29.84" textLength="73.26" lengthAdjust="spacingAndGlyphs" fill="#000">0.038</text>
<text x="2361.50" y="1215.20" font-size="29.84" textLength="72.36" lengthAdjust="spacingAndGlyphs" fill="#000">1.311</text>
<text x="2441.53" y="1215.20" font-size="29.84" textLength="180.66" lengthAdjust="spacingAndGlyphs" fill="#000">[1.015−1.693]</text>
<text x="2664.86" y="1215.20" font-size="29.84" textLength="73.26" lengthAdjust="spacingAndGlyphs" fill="#000">0.128</text>
<text x="2949.06" y="1215.20" font-size="29.84" textLength="73.26" lengthAdjust="spacingAndGlyphs" fill="#000">0.971</text>
<text x="56.09" y="1271.00" font-size="29.84" textLength="224.14" lengthAdjust="spacingAndGlyphs" fill="#000">s.Negativibacillus</text>
<text x="287.79" y="1271.00" font-size="29.84" textLength="174.32" lengthAdjust="spacingAndGlyphs" fill="#000">sp000435195</text>
<text x="644.72" y="1271.00" font-size="29.84" textLength="43.64" lengthAdjust="spacingAndGlyphs" fill="#000">the</text>
<text x="695.35" y="1271.00" font-size="29.84" textLength="64.49" lengthAdjust="spacingAndGlyphs" fill="#000">FR02</text>
<text x="766.87" y="1271.00" font-size="29.84" textLength="85.87" lengthAdjust="spacingAndGlyphs" fill="#000">cohort</text>
<text x="1083.27" y="1271.00" font-size="29.84" textLength="31.08" lengthAdjust="spacingAndGlyphs" fill="#000">15</text>
<text x="1231.15" y="1271.00" font-size="29.84" textLength="73.39" lengthAdjust="spacingAndGlyphs" fill="#000">0.062</text>
<text x="1359.06" y="1271.00" font-size="29.84" textLength="73.34" lengthAdjust="spacingAndGlyphs" fill="#000">0.023</text>
<text x="2361.49" y="1271.00" font-size="29.84" textLength="72.49" lengthAdjust="spacingAndGlyphs" fill="#000">1.152</text>
<text x="2441.53" y="1271.00" font-size="29.84" textLength="180.66" lengthAdjust="spacingAndGlyphs" fill="#000">[1.020−1.301]</text>
<text x="2664.85" y="1271.00" font-size="29.84" textLength="73.45" lengthAdjust="spacingAndGlyphs" fill="#000">0.856</text>
<text x="2949.07" y="1271.00" font-size="29.84" textLength="72.59" lengthAdjust="spacingAndGlyphs" fill="#000">0.485</text>
<text x="56.10" y="1326.80" font-size="29.84" textLength="149.92" lengthAdjust="spacingAndGlyphs" fill="#000">s.Prevotella</text>
<text x="215.65" y="1326.80" font-size="29.84" textLength="91.63" lengthAdjust="spacingAndGlyphs" fill="#000">buccae</text>
<text x="644.72" y="1326.80" font-size="29.84" textLength="43.64" lengthAdjust="spacingAndGlyphs" fill="#000">the</text>
<text x="695.35" y="1326.80" font-size="29.84" textLength="64.49" lengthAdjust="spacingAndGlyphs" fill="#000">FR02</text>
<text x="766.87" y="1326.80" font-size="29.84" textLength="85.87" lengthAdjust="spacingAndGlyphs" fill="#000">cohort</text>
<text x="1083.27" y="1326.80" font-size="29.84" textLength="31.08" lengthAdjust="spacingAndGlyphs" fill="#000">15</text>
<text x="1231.15" y="1326.80" font-size="29.84" textLength="73.39" lengthAdjust="spacingAndGlyphs" fill="#000">0.082</text>
<text x="1359.06" y="1326.80" font-size="29.84" textLength="73.26" lengthAdjust="spacingAndGlyphs" fill="#000">0.031</text>
<text x="2362.56" y="1326.80" font-size="29.84" textLength="73.26" lengthAdjust="spacingAndGlyphs" fill="#000">0.838</text>
<text x="2443.46" y="1326.80" font-size="29.84" textLength="180.66" lengthAdjust="spacingAndGlyphs" fill="#000">[0.714−0.984]</text>
<text x="2664.85" y="1326.80" font-size="29.84" textLength="73.60" lengthAdjust="spacingAndGlyphs" fill="#000">0.444</text>
<text x="2949.07" y="1326.80" font-size="29.84" textLength="72.59" lengthAdjust="spacingAndGlyphs" fill="#000">0.095</text>
<text x="56.10" y="1382.60" font-size="29.84" textLength="231.54" lengthAdjust="spacingAndGlyphs" fill="#000">s.Parabacteroides</text>
<text x="295.24" y="1382.60" font-size="29.84" textLength="100.54" lengthAdjust="spacingAndGlyphs" fill="#000">merdae</text>
<text x="644.72" y="1382.60" font-size="29.84" textLength="43.64" lengthAdjust="spacingAndGlyphs" fill="#000">the</text>
<text x="695.08" y="1382.60" font-size="29.84" textLength="77.82" lengthAdjust="spacingAndGlyphs" fill="#000">Dutch</text>
<text x="780.43" y="1382.60" font-size="29.84" textLength="156.90" lengthAdjust="spacingAndGlyphs" fill="#000">microbiome</text>
<text x="944.60" y="1382.60" font-size="29.84" textLength="92.11" lengthAdjust="spacingAndGlyphs" fill="#000">project</text>
<text x="1083.90" y="1382.60" font-size="29.84" textLength="16.48" lengthAdjust="spacingAndGlyphs" fill="#000">6</text>
<text x="1231.16" y="1382.60" font-size="29.84" textLength="73.26" lengthAdjust="spacingAndGlyphs" fill="#000">0.078</text>
<text x="1359.07" y="1382.60" font-size="29.84" textLength="72.59" lengthAdjust="spacingAndGlyphs" fill="#000">0.025</text>
<text x="2361.50" y="1382.60" font-size="29.84" textLength="72.36" lengthAdjust="spacingAndGlyphs" fill="#000">1.191</text>
<text x="2441.53" y="1382.60" font-size="29.84" textLength="180.66" lengthAdjust="spacingAndGlyphs" fill="#000">[1.022−1.388]</text>
<text x="2664.85" y="1382.60" font-size="29.84" textLength="73.57" lengthAdjust="spacingAndGlyphs" fill="#000">0.369</text>
<text x="2949.07" y="1382.60" font-size="29.84" textLength="72.59" lengthAdjust="spacingAndGlyphs" fill="#000">0.165</text>
<text x="56.10" y="1438.40" font-size="29.84" textLength="173.79" lengthAdjust="spacingAndGlyphs" fill="#000">s.Bacteroides</text>
<text x="237.47" y="1438.40" font-size="29.84" textLength="127.66" lengthAdjust="spacingAndGlyphs" fill="#000">salyersiae</text>
<text x="644.72" y="1438.40" font-size="29.84" textLength="43.64" lengthAdjust="spacingAndGlyphs" fill="#000">the</text>
<text x="695.08" y="1438.40" font-size="29.84" textLength="77.82" lengthAdjust="spacingAndGlyphs" fill="#000">Dutch</text>
<text x="780.43" y="1438.40" font-size="29.84" textLength="156.90" lengthAdjust="spacingAndGlyphs" fill="#000">microbiome</text>
<text x="944.60" y="1438.40" font-size="29.84" textLength="92.11" lengthAdjust="spacingAndGlyphs" fill="#000">project</text>
<text x="1083.86" y="1438.40" font-size="29.84" textLength="16.71" lengthAdjust="spacingAndGlyphs" fill="#000">7</text>
<text x="1231.17" y="1438.40" font-size="29.84" textLength="72.59" lengthAdjust="spacingAndGlyphs" fill="#000">0.035</text>
<text x="1359.06" y="1438.40" font-size="29.84" textLength="73.34" lengthAdjust="spacingAndGlyphs" fill="#000">0.023</text>
<text x="2361.49" y="1438.40" font-size="29.84" textLength="72.49" lengthAdjust="spacingAndGlyphs" fill="#000">1.082</text>
<text x="2441.53" y="1438.40" font-size="29.84" textLength="180.66" lengthAdjust="spacingAndGlyphs" fill="#000">[1.011−1.158]</text>
<text x="2664.85" y="1438.40" font-size="29.84" textLength="73.45" lengthAdjust="spacingAndGlyphs" fill="#000">0.676</text>
<text x="2949.05" y="1438.40" font-size="29.84" textLength="73.59" lengthAdjust="spacingAndGlyphs" fill="#000">0.760</text>
<text x="56.10" y="1494.20" font-size="29.84" textLength="519.03" lengthAdjust="spacingAndGlyphs" fill="#000">s.Lachnospiraceae.bacterium.8.1.57FAA</text>
<text x="644.72" y="1494.20" font-size="29.84" textLength="43.64" lengthAdjust="spacingAndGlyphs" fill="#000">the</text>
<text x="695.08" y="1494.20" font-size="29.84" textLength="77.82" lengthAdjust="spacingAndGlyphs" fill="#000">Dutch</text>
<text x="780.43" y="1494.20" font-size="29.84" textLength="156.90" lengthAdjust="spacingAndGlyphs" fill="#000">microbiome</text>
<text x="944.60" y="1494.20" font-size="29.84" textLength="92.11" lengthAdjust="spacingAndGlyphs" fill="#000">project</text>
<text x="1083.21" y="1494.20" font-size="29.84" textLength="32.02" lengthAdjust="spacingAndGlyphs" fill="#000">16</text>
<text x="1231.15" y="1494.20" font-size="29.84" textLength="73.73" lengthAdjust="spacingAndGlyphs" fill="#000">0.027</text>
<text x="1359.05" y="1494.20" font-size="29.84" textLength="73.39" lengthAdjust="spacingAndGlyphs" fill="#000">0.042</text>
<text x="2362.55" y="1494.20" font-size="29.84" textLength="73.45" lengthAdjust="spacingAndGlyphs" fill="#000">0.946</text>
<text x="2443.46" y="1494.20" font-size="29.84" textLength="180.66" lengthAdjust="spacingAndGlyphs" fill="#000">[0.897−0.998]</text>
<text x="2664.85" y="1494.20" font-size="29.84" textLength="73.39" lengthAdjust="spacingAndGlyphs" fill="#000">0.402</text>
<text x="2949.06" y="1494.20" font-size="29.84" textLength="73.26" lengthAdjust="spacingAndGlyphs" fill="#000">0.578</text>
<rect x="1759.30" y="113.90" width="2.60" height="1396.60" fill="#d22f2f"/>
<rect x="1690.28" y="142.25" width="68.13" height="2.50" fill="#137834"/>
<polygon points="1688.86,132.12 1690.28,130.70 1691.71,132.12 1691.71,154.88 1690.28,156.30 1688.86,154.88" fill="#137834"/>
<polygon points="1756.99,132.12 1758.41,130.70 1759.84,132.12 1759.84,154.88 1758.41,156.30 1756.99,154.88" fill="#137834"/>
<rect x="1798.36" y="198.05" width="468.68" height="2.50" fill="#964a0a"/>
<polygon points="1796.93,187.93 1798.36,186.50 1799.78,187.93 1799.78,210.68 1798.36,212.10 1796.93,210.68" fill="#964a0a"/>
<polygon points="2265.61,187.93 2267.03,186.50 2268.46,187.93 2268.46,210.68 2267.03,212.10 2265.61,210.68" fill="#137834"/>
<rect x="1777.56" y="253.85" width="204.93" height="2.50" fill="#964a0a"/>
<polygon points="1776.14,243.72 1777.56,242.30 1778.99,243.72 1778.99,266.47 1777.56,267.90 1776.14,266.47" fill="#964a0a"/>
<polygon points="1981.06,243.72 1982.49,242.30 1983.91,243.72 1983.91,266.47 1982.49,267.90 1981.06,266.47" fill="#964a0a"/>
<rect x="1797.26" y="309.65" width="355.13" height="2.50" fill="#964a0a"/>
<polygon points="1795.84,299.52 1797.26,298.10 1798.69,299.52 1798.69,322.27 1797.26,323.70 1795.84,322.27" fill="#964a0a"/>
<polygon points="2150.97,299.52 2152.40,298.10 2153.82,299.52 2153.82,322.27 2152.40,323.70 2150.97,322.27" fill="#964a0a"/>
<rect x="1676.88" y="365.45" width="66.76" height="2.50" fill="#137834"/>
<polygon points="1675.45,355.32 1676.88,353.90 1678.30,355.32 1678.30,378.07 1676.88,379.50 1675.45,378.07" fill="#137834"/>
<polygon points="1742.21,355.32 1743.64,353.90 1745.06,355.32 1745.06,378.07 1743.64,379.50 1742.21,378.07" fill="#137834"/>
<rect x="1768.53" y="421.25" width="59.10" height="2.50" fill="#964a0a"/>
<polygon points="1767.11,411.12 1768.53,409.70 1769.96,411.12 1769.96,433.88 1768.53,435.30 1767.11,433.88" fill="#964a0a"/>
<polygon points="1826.21,411.12 1827.63,409.70 1829.06,411.12 1829.06,433.88 1827.63,435.30 1826.21,433.88" fill="#964a0a"/>
<rect x="1695.76" y="477.05" width="61.56" height="2.50" fill="#137834"/>
<polygon points="1694.33,466.92 1695.76,465.50 1697.18,466.92 1697.18,489.67 1695.76,491.10 1694.33,489.67" fill="#137834"/>
<polygon points="1755.89,466.92 1757.32,465.50 1758.74,466.92 1758.74,489.67 1757.32,491.10 1755.89,489.67" fill="#137834"/>
<rect x="1622.43" y="532.85" width="135.16" height="2.50" fill="#137834"/>
<polygon points="1621.01,522.72 1622.43,521.30 1623.86,522.72 1623.86,545.47 1622.43,546.90 1621.01,545.47" fill="#137834"/>
<polygon points="1756.17,522.72 1757.59,521.30 1759.02,522.72 1759.02,545.47 1757.59,546.90 1756.17,545.47" fill="#137834"/>
<rect x="1784.40" y="588.65" width="216.14" height="2.50" fill="#964a0a"/>
<polygon points="1782.98,578.52 1784.40,577.10 1785.83,578.52 1785.83,601.27 1784.40,602.70 1782.98,601.27" fill="#964a0a"/>
<polygon points="1999.12,578.52 2000.55,577.10 2001.97,578.52 2001.97,601.27 2000.55,602.70 1999.12,601.27" fill="#964a0a"/>
<rect x="1771.27" y="644.45" width="169.91" height="2.50" fill="#964a0a"/>
<polygon points="1769.85,634.33 1771.27,632.90 1772.70,634.33 1772.70,657.08 1771.27,658.50 1769.85,657.08" fill="#964a0a"/>
<polygon points="1939.75,634.33 1941.18,632.90 1942.60,634.33 1942.60,657.08 1941.18,658.50 1939.75,657.08" fill="#964a0a"/>
<rect x="1694.94" y="700.25" width="62.93" height="2.50" fill="#137834"/>
<polygon points="1693.51,690.12 1694.94,688.70 1696.36,690.12 1696.36,712.88 1694.94,714.30 1693.51,712.88" fill="#137834"/>
<polygon points="1756.44,690.12 1757.86,688.70 1759.29,690.12 1759.29,712.88 1757.86,714.30 1756.44,712.88" fill="#137834"/>
<rect x="1613.13" y="756.05" width="134.88" height="2.50" fill="#137834"/>
<polygon points="1611.70,745.92 1613.13,744.50 1614.55,745.92 1614.55,768.67 1613.13,770.10 1611.70,768.67" fill="#137834"/>
<polygon points="1746.59,745.92 1748.01,744.50 1749.44,745.92 1749.44,768.67 1748.01,770.10 1746.59,768.67" fill="#137834"/>
<rect x="1760.87" y="811.85" width="80.16" height="2.50" fill="#964a0a"/>
<polygon points="1759.45,801.72 1760.87,800.30 1762.30,801.72 1762.30,824.47 1760.87,825.90 1759.45,824.47" fill="#964a0a"/>
<polygon points="1839.61,801.72 1841.04,800.30 1842.46,801.72 1842.46,824.47 1841.04,825.90 1839.61,824.47" fill="#964a0a"/>
<rect x="1760.60" y="867.65" width="70.59" height="2.50" fill="#964a0a"/>
<polygon points="1759.17,857.52 1760.60,856.10 1762.02,857.52 1762.02,880.27 1760.60,881.70 1759.17,880.27" fill="#964a0a"/>
<polygon points="1829.76,857.52 1831.19,856.10 1832.61,857.52 1832.61,880.27 1831.19,881.70 1829.76,880.27" fill="#964a0a"/>
<rect x="1768.81" y="923.45" width="67.31" height="2.50" fill="#964a0a"/>
<polygon points="1767.38,913.32 1768.81,911.90 1770.23,913.32 1770.23,936.07 1768.81,937.50 1767.38,936.07" fill="#964a0a"/>
<polygon points="1834.69,913.32 1836.11,911.90 1837.54,913.32 1837.54,936.07 1836.11,937.50 1834.69,936.07" fill="#964a0a"/>
<rect x="1695.76" y="979.25" width="63.75" height="2.50" fill="#137834"/>
<polygon points="1694.33,969.12 1695.76,967.70 1697.18,969.12 1697.18,991.88 1695.76,993.30 1694.33,991.88" fill="#137834"/>
<polygon points="1758.08,969.12 1759.51,967.70 1760.93,969.12 1760.93,991.88 1759.51,993.30 1758.08,991.88" fill="#137834"/>
<rect x="1761.42" y="1035.05" width="258.55" height="2.50" fill="#964a0a"/>
<polygon points="1760.00,1024.92 1761.42,1023.50 1762.85,1024.92 1762.85,1047.67 1761.42,1049.10 1760.00,1047.67" fill="#964a0a"/>
<polygon points="2018.55,1024.92 2019.97,1023.50 2021.40,1024.92 2021.40,1047.67 2019.97,1049.10 2018.55,1047.67" fill="#964a0a"/>
<rect x="1690.28" y="1090.85" width="55.54" height="2.50" fill="#137834"/>
<polygon points="1688.86,1080.72 1690.28,1079.30 1691.71,1080.72 1691.71,1103.47 1690.28,1104.90 1688.86,1103.47" fill="#137834"/>
<polygon points="1744.40,1080.72 1745.83,1079.30 1747.25,1080.72 1747.25,1103.47 1745.83,1104.90 1744.40,1103.47" fill="#137834"/>
<rect x="1672.23" y="1146.65" width="85.36" height="2.50" fill="#137834"/>
<polygon points="1670.80,1136.53 1672.23,1135.10 1673.65,1136.53 1673.65,1159.28 1672.23,1160.70 1670.80,1159.28" fill="#137834"/>
<polygon points="1756.17,1136.53 1757.59,1135.10 1759.02,1136.53 1759.02,1159.28 1757.59,1160.70 1756.17,1159.28" fill="#137834"/>
<rect x="1764.70" y="1202.45" width="185.50" height="2.50" fill="#964a0a"/>
<polygon points="1763.28,1192.33 1764.70,1190.90 1766.13,1192.33 1766.13,1215.08 1764.70,1216.50 1763.28,1215.08" fill="#964a0a"/>
<polygon points="1948.78,1192.33 1950.20,1190.90 1951.63,1192.33 1951.63,1215.08 1950.20,1216.50 1948.78,1215.08" fill="#964a0a"/>
<rect x="1766.07" y="1258.25" width="76.88" height="2.50" fill="#964a0a"/>
<polygon points="1764.65,1248.12 1766.07,1246.70 1767.50,1248.12 1767.50,1270.88 1766.07,1272.30 1764.65,1270.88" fill="#964a0a"/>
<polygon points="1841.53,1248.12 1842.95,1246.70 1844.38,1248.12 1844.38,1270.88 1842.95,1272.30 1841.53,1270.88" fill="#964a0a"/>
<rect x="1682.35" y="1314.05" width="73.87" height="2.50" fill="#137834"/>
<polygon points="1680.93,1303.92 1682.35,1302.50 1683.78,1303.92 1683.78,1326.67 1682.35,1328.10 1680.93,1326.67" fill="#137834"/>
<polygon points="1754.80,1303.92 1756.22,1302.50 1757.65,1303.92 1757.65,1326.67 1756.22,1328.10 1754.80,1326.67" fill="#137834"/>
<rect x="1766.62" y="1369.85" width="100.14" height="2.50" fill="#964a0a"/>
<polygon points="1765.19,1359.72 1766.62,1358.30 1768.04,1359.72 1768.04,1382.47 1766.62,1383.90 1765.19,1382.47" fill="#964a0a"/>
<polygon points="1865.33,1359.72 1866.76,1358.30 1868.18,1359.72 1868.18,1382.47 1866.76,1383.90 1865.33,1382.47" fill="#964a0a"/>
<rect x="1763.61" y="1425.65" width="40.22" height="2.50" fill="#964a0a"/>
<polygon points="1762.18,1415.52 1763.61,1414.10 1765.03,1415.52 1765.03,1438.27 1763.61,1439.70 1762.18,1438.27" fill="#964a0a"/>
<polygon points="1802.40,1415.52 1803.83,1414.10 1805.25,1415.52 1805.25,1438.27 1803.83,1439.70 1802.40,1438.27" fill="#964a0a"/>
<rect x="1732.42" y="1481.45" width="27.63" height="2.50" fill="#137834"/>
<polygon points="1730.99,1471.32 1732.42,1469.90 1733.84,1471.32 1733.84,1494.07 1732.42,1495.50 1730.99,1494.07" fill="#137834"/>
<polygon points="1758.63,1471.32 1760.05,1469.90 1761.48,1471.32 1761.48,1494.07 1760.05,1495.50 1758.63,1494.07" fill="#137834"/>
<ellipse cx="1721.75" cy="143.50" rx="12.45" ry="12.45" fill="#137834"/>
<ellipse cx="1979.75" cy="199.30" rx="12.45" ry="12.45" fill="#964a0a"/>
<ellipse cx="1866.48" cy="255.10" rx="12.45" ry="12.45" fill="#964a0a"/>
<ellipse cx="1941.45" cy="310.90" rx="12.45" ry="12.45" fill="#964a0a"/>
<ellipse cx="1707.80" cy="366.70" rx="12.45" ry="12.45" fill="#137834"/>
<ellipse cx="1796.72" cy="422.50" rx="12.45" ry="12.45" fill="#964a0a"/>
<ellipse cx="1724.48" cy="478.30" rx="12.45" ry="12.45" fill="#137834"/>
<ellipse cx="1678.52" cy="534.10" rx="12.45" ry="12.45" fill="#137834"/>
<ellipse cx="1877.97" cy="589.90" rx="12.45" ry="12.45" fill="#964a0a"/>
<ellipse cx="1846.24" cy="645.70" rx="12.45" ry="12.45" fill="#964a0a"/>
<ellipse cx="1724.21" cy="701.50" rx="12.45" ry="12.45" fill="#137834"/>
<ellipse cx="1668.40" cy="757.30" rx="12.45" ry="12.45" fill="#137834"/>
<ellipse cx="1798.36" cy="813.10" rx="12.45" ry="12.45" fill="#964a0a"/>
<ellipse cx="1793.98" cy="868.90" rx="12.45" ry="12.45" fill="#964a0a"/>
<ellipse cx="1800.82" cy="924.70" rx="12.45" ry="12.45" fill="#964a0a"/>
<ellipse cx="1725.31" cy="980.50" rx="12.45" ry="12.45" fill="#137834"/>
<ellipse cx="1869.22" cy="1036.30" rx="12.45" ry="12.45" fill="#964a0a"/>
<ellipse cx="1716.28" cy="1092.10" rx="12.45" ry="12.45" fill="#137834"/>
<ellipse cx="1710.80" cy="1147.90" rx="12.45" ry="12.45" fill="#137834"/>
<ellipse cx="1845.69" cy="1203.70" rx="12.45" ry="12.45" fill="#964a0a"/>
<ellipse cx="1802.19" cy="1259.50" rx="12.45" ry="12.45" fill="#964a0a"/>
<ellipse cx="1716.28" cy="1315.30" rx="12.45" ry="12.45" fill="#137834"/>
<ellipse cx="1812.86" cy="1371.10" rx="12.45" ry="12.45" fill="#964a0a"/>
<ellipse cx="1783.04" cy="1426.90" rx="12.45" ry="12.45" fill="#964a0a"/>
<ellipse cx="1745.83" cy="1482.70" rx="12.45" ry="12.45" fill="#137834"/>
<rect x="55.00" y="1509.05" width="3066.80" height="2.90" fill="#000"/>
<rect x="1485.70" y="1510.50" width="2.60" height="26.50" fill="#000"/>
<text x="1476.28" y="1584.70" font-size="37.77" textLength="21.44" lengthAdjust="spacingAndGlyphs" fill="#000">0</text>
<rect x="1759.30" y="1510.50" width="2.60" height="26.50" fill="#000"/>
<text x="1750.31" y="1584.70" font-size="37.77" textLength="19.62" lengthAdjust="spacingAndGlyphs" fill="#000">1</text>
<rect x="2306.50" y="1510.50" width="2.60" height="26.50" fill="#000"/>
<text x="2297.87" y="1584.70" font-size="37.77" textLength="20.07" lengthAdjust="spacingAndGlyphs" fill="#000">3</text>
<text x="20.86" y="1676.60" font-size="49.71" textLength="28.77" lengthAdjust="spacingAndGlyphs" fill="#000">B</text>
<rect x="28.40" y="1689.15" width="3099.90" height="2.90" fill="#000"/>
<text x="55.66" y="1724.80" font-size="32.92" textLength="52.57" lengthAdjust="spacingAndGlyphs" fill="#000">Gut</text>
<text x="116.90" y="1724.80" font-size="32.92" textLength="173.08" lengthAdjust="spacingAndGlyphs" fill="#000">microbiome</text>
<text x="644.06" y="1724.80" font-size="32.92" textLength="65.33" lengthAdjust="spacingAndGlyphs" fill="#000">Data</text>
<text x="719.88" y="1724.80" font-size="32.92" textLength="83.23" lengthAdjust="spacingAndGlyphs" fill="#000">souce</text>
<text x="1061.14" y="1724.80" font-size="32.92" textLength="71.18" lengthAdjust="spacingAndGlyphs" fill="#000">SNPs</text>
<text x="1231.87" y="1724.80" font-size="32.92" textLength="33.23" lengthAdjust="spacingAndGlyphs" fill="#000">SE</text>
<text x="1338.90" y="1724.80" font-size="32.92" textLength="104.80" lengthAdjust="spacingAndGlyphs" fill="#000"><tspan font-style="italic">p</tspan>-value</text>
<text x="2362.29" y="1724.80" font-size="32.92" textLength="41.77" lengthAdjust="spacingAndGlyphs" fill="#000"><tspan font-style="italic">OR</tspan></text>
<text x="2413.07" y="1724.80" font-size="32.92" textLength="108.85" lengthAdjust="spacingAndGlyphs" fill="#000">[95%<tspan font-style="italic">CI</tspan>]</text>
<text x="2663.78" y="1724.80" font-size="32.92" textLength="206.19" lengthAdjust="spacingAndGlyphs" fill="#000">Heterogeneity</text>
<text x="2949.97" y="1724.80" font-size="32.92" textLength="147.91" lengthAdjust="spacingAndGlyphs" fill="#000">Pleiotropy</text>
<rect x="27.50" y="1739.80" width="19.40" height="3.00" fill="#000"/>
<rect x="69.70" y="1739.80" width="18.60" height="3.00" fill="#000"/>
<rect x="111.10" y="1739.80" width="18.60" height="3.00" fill="#000"/>
<rect x="152.50" y="1739.80" width="19.50" height="3.00" fill="#000"/>
<rect x="194.70" y="1739.80" width="18.70" height="3.00" fill="#000"/>
<rect x="236.10" y="1739.80" width="19.10" height="3.00" fill="#000"/>
<rect x="278.00" y="1739.80" width="18.60" height="3.00" fill="#000"/>
<rect x="319.40" y="1739.80" width="18.60" height="3.00" fill="#000"/>
<rect x="360.80" y="1739.80" width="19.50" height="3.00" fill="#000"/>
<rect x="403.00" y="1739.80" width="18.70" height="3.00" fill="#000"/>
<rect x="444.40" y="1739.80" width="18.70" height="3.00" fill="#000"/>
<rect x="486.70" y="1739.80" width="18.60" height="3.00" fill="#000"/>
<rect x="528.00" y="1739.80" width="19.10" height="3.00" fill="#000"/>
<rect x="563.70" y="1739.80" width="18.60" height="3.00" fill="#000"/>
<rect x="605.10" y="1739.80" width="31.90" height="3.00" fill="#000"/>
<rect x="660.40" y="1739.80" width="18.60" height="3.00" fill="#000"/>
<rect x="701.20" y="1739.80" width="19.40" height="3.00" fill="#000"/>
<rect x="743.40" y="1739.80" width="18.60" height="3.00" fill="#000"/>
<rect x="784.80" y="1739.80" width="19.10" height="3.00" fill="#000"/>
<rect x="826.20" y="1739.80" width="19.50" height="3.00" fill="#000"/>
<rect x="868.40" y="1739.80" width="18.70" height="3.00" fill="#000"/>
<rect x="909.90" y="1739.80" width="19.00" height="3.00" fill="#000"/>
<rect x="951.70" y="1739.80" width="19.40" height="3.00" fill="#000"/>
<rect x="993.10" y="1739.80" width="30.60" height="3.00" fill="#000"/>
<rect x="1046.90" y="1739.80" width="31.90" height="3.00" fill="#000"/>
<rect x="1101.60" y="1739.80" width="19.40" height="3.00" fill="#000"/>
<rect x="1143.80" y="1739.80" width="28.20" height="3.00" fill="#000"/>
<rect x="1194.70" y="1739.80" width="31.90" height="3.00" fill="#000"/>
<rect x="1249.80" y="1739.80" width="18.20" height="3.00" fill="#000"/>
<rect x="1280.80" y="1739.80" width="19.60" height="3.00" fill="#000"/>
<rect x="1323.10" y="1739.80" width="31.10" height="3.00" fill="#000"/>
<rect x="1377.80" y="1739.80" width="19.00" height="3.00" fill="#000"/>
<rect x="1409.20" y="1739.80" width="19.20" height="3.00" fill="#000"/>
<rect x="1451.50" y="1739.80" width="31.00" height="3.00" fill="#000"/>
<rect x="1506.10" y="1739.80" width="18.70" height="3.00" fill="#000"/>
<rect x="1547.50" y="1739.80" width="18.90" height="3.00" fill="#000"/>
<rect x="1589.00" y="1739.80" width="19.00" height="3.00" fill="#000"/>
<rect x="1630.40" y="1739.80" width="19.40" height="3.00" fill="#000"/>
<rect x="1673.00" y="1739.80" width="18.60" height="3.00" fill="#000"/>
<rect x="1714.40" y="1739.80" width="18.60" height="3.00" fill="#000"/>
<rect x="1755.80" y="1739.80" width="18.70" height="3.00" fill="#000"/>
<rect x="1798.00" y="1739.80" width="18.70" height="3.00" fill="#000"/>
<rect x="1839.50" y="1739.80" width="18.60" height="3.00" fill="#000"/>
<rect x="1881.70" y="1739.80" width="18.60" height="3.00" fill="#000"/>
<rect x="1923.10" y="1739.80" width="18.60" height="3.00" fill="#000"/>
<rect x="1964.90" y="1739.80" width="18.70" height="3.00" fill="#000"/>
<rect x="2006.30" y="1739.80" width="18.70" height="3.00" fill="#000"/>
<rect x="2047.70" y="1739.80" width="18.70" height="3.00" fill="#000"/>
<rect x="2090.00" y="1739.80" width="18.70" height="3.00" fill="#000"/>
<rect x="2131.40" y="1739.80" width="18.60" height="3.00" fill="#000"/>
<rect x="2172.80" y="1739.80" width="18.60" height="3.00" fill="#000"/>
<rect x="2215.00" y="1739.80" width="18.70" height="3.00" fill="#000"/>
<rect x="2256.40" y="1739.80" width="18.70" height="3.00" fill="#000"/>
<rect x="2297.80" y="1739.80" width="31.10" height="3.00" fill="#000"/>
<rect x="2350.90" y="1739.80" width="31.00" height="3.00" fill="#000"/>
<rect x="2404.70" y="1739.80" width="18.60" height="3.00" fill="#000"/>
<rect x="2447.40" y="1739.80" width="17.80" height="3.00" fill="#000"/>
<rect x="2488.50" y="1739.80" width="18.30" height="3.00" fill="#000"/>
<rect x="2530.00" y="1739.80" width="18.30" height="3.00" fill="#000"/>
<rect x="2572.00" y="1739.80" width="18.20" height="3.00" fill="#000"/>
<rect x="2613.50" y="1739.80" width="18.60" height="3.00" fill="#000"/>
<rect x="2656.20" y="1739.80" width="31.10" height="3.00" fill="#000"/>
<rect x="2711.30" y="1739.80" width="17.90" height="3.00" fill="#000"/>
<rect x="2752.50" y="1739.80" width="18.20" height="3.00" fill="#000"/>
<rect x="2794.00" y="1739.80" width="18.30" height="3.00" fill="#000"/>
<rect x="2836.00" y="1739.80" width="18.20" height="3.00" fill="#000"/>
<rect x="2877.50" y="1739.80" width="18.50" height="3.00" fill="#000"/>
<rect x="2900.80" y="1739.80" width="17.50" height="3.00" fill="#000"/>
<rect x="2941.50" y="1739.80" width="32.30" height="3.00" fill="#000"/>
<rect x="2996.60" y="1739.80" width="17.50" height="3.00" fill="#000"/>
<rect x="3038.60" y="1739.80" width="17.50" height="3.00" fill="#000"/>
<rect x="3080.10" y="1739.80" width="17.80" height="3.00" fill="#000"/>
<rect x="3121.30" y="1739.80" width="6.60" height="3.00" fill="#000"/>
<text x="28.91" y="1773.30" font-size="25.93" textLength="274.77" lengthAdjust="spacingAndGlyphs" fill="#000">c.Gammaproteobacteria</text>
<text x="620.29" y="1773.30" font-size="25.93" textLength="37.91" lengthAdjust="spacingAndGlyphs" fill="#000">the</text>
<text x="664.04" y="1773.30" font-size="25.93" textLength="67.60" lengthAdjust="spacingAndGlyphs" fill="#000">Dutch</text>
<text x="738.18" y="1773.30" font-size="25.93" textLength="136.30" lengthAdjust="spacingAndGlyphs" fill="#000">microbiome</text>
<text x="880.80" y="1773.30" font-size="25.93" textLength="80.02" lengthAdjust="spacingAndGlyphs" fill="#000">project</text>
<text x="1061.30" y="1773.30" font-size="25.93" textLength="27.71" lengthAdjust="spacingAndGlyphs" fill="#000">13</text>
<text x="1209.20" y="1773.30" font-size="25.93" textLength="64.05" lengthAdjust="spacingAndGlyphs" fill="#000">0.047</text>
<text x="1337.12" y="1773.30" font-size="25.93" textLength="63.06" lengthAdjust="spacingAndGlyphs" fill="#000">0.005</text>
<text x="2364.62" y="1773.30" font-size="25.93" textLength="63.06" lengthAdjust="spacingAndGlyphs" fill="#000">0.875</text>
<text x="2434.89" y="1773.30" font-size="25.93" textLength="156.95" lengthAdjust="spacingAndGlyphs" fill="#000">[0.798−0.960]</text>
<text x="2669.91" y="1773.30" font-size="25.93" textLength="63.65" lengthAdjust="spacingAndGlyphs" fill="#000">0.901</text>
<text x="2955.80" y="1773.30" font-size="25.93" textLength="63.75" lengthAdjust="spacingAndGlyphs" fill="#000">0.372</text>
<text x="28.95" y="1818.25" font-size="25.93" textLength="178.67" lengthAdjust="spacingAndGlyphs" fill="#000">o.Pasteurellales</text>
<text x="620.29" y="1818.25" font-size="25.93" textLength="37.91" lengthAdjust="spacingAndGlyphs" fill="#000">the</text>
<text x="664.04" y="1818.25" font-size="25.93" textLength="67.60" lengthAdjust="spacingAndGlyphs" fill="#000">Dutch</text>
<text x="738.18" y="1818.25" font-size="25.93" textLength="136.30" lengthAdjust="spacingAndGlyphs" fill="#000">microbiome</text>
<text x="880.80" y="1818.25" font-size="25.93" textLength="80.02" lengthAdjust="spacingAndGlyphs" fill="#000">project</text>
<text x="1061.35" y="1818.25" font-size="25.93" textLength="27.00" lengthAdjust="spacingAndGlyphs" fill="#000">15</text>
<text x="1209.20" y="1818.25" font-size="25.93" textLength="63.94" lengthAdjust="spacingAndGlyphs" fill="#000">0.074</text>
<text x="1337.11" y="1818.25" font-size="25.93" textLength="63.71" lengthAdjust="spacingAndGlyphs" fill="#000">0.043</text>
<text x="2364.61" y="1818.25" font-size="25.93" textLength="63.65" lengthAdjust="spacingAndGlyphs" fill="#000">0.861</text>
<text x="2434.89" y="1818.25" font-size="25.93" textLength="156.95" lengthAdjust="spacingAndGlyphs" fill="#000">[0.744−0.996]</text>
<text x="2669.91" y="1818.25" font-size="25.93" textLength="63.64" lengthAdjust="spacingAndGlyphs" fill="#000">0.538</text>
<text x="2955.80" y="1818.25" font-size="25.93" textLength="63.94" lengthAdjust="spacingAndGlyphs" fill="#000">0.270</text>
<text x="28.93" y="1863.20" font-size="25.93" textLength="171.11" lengthAdjust="spacingAndGlyphs" fill="#000">o.Chromatiales</text>
<text x="620.29" y="1863.20" font-size="25.93" textLength="37.91" lengthAdjust="spacingAndGlyphs" fill="#000">the</text>
<text x="664.27" y="1863.20" font-size="25.93" textLength="56.03" lengthAdjust="spacingAndGlyphs" fill="#000">FR02</text>
<text x="726.40" y="1863.20" font-size="25.93" textLength="74.60" lengthAdjust="spacingAndGlyphs" fill="#000">cohort</text>
<text x="1061.92" y="1863.20" font-size="25.93" textLength="28.27" lengthAdjust="spacingAndGlyphs" fill="#000">23</text>
<text x="1209.21" y="1863.20" font-size="25.93" textLength="63.64" lengthAdjust="spacingAndGlyphs" fill="#000">0.008</text>
<text x="1337.10" y="1863.20" font-size="25.93" textLength="64.05" lengthAdjust="spacingAndGlyphs" fill="#000">0.047</text>
<text x="2364.60" y="1863.20" font-size="25.93" textLength="63.94" lengthAdjust="spacingAndGlyphs" fill="#000">0.984</text>
<text x="2434.89" y="1863.20" font-size="25.93" textLength="156.95" lengthAdjust="spacingAndGlyphs" fill="#000">[0.968−1.000]</text>
<text x="2669.90" y="1863.20" font-size="25.93" textLength="63.94" lengthAdjust="spacingAndGlyphs" fill="#000">0.794</text>
<text x="2955.80" y="1863.20" font-size="25.93" textLength="64.05" lengthAdjust="spacingAndGlyphs" fill="#000">0.367</text>
<text x="29.64" y="1908.15" font-size="25.93" textLength="194.28" lengthAdjust="spacingAndGlyphs" fill="#000">f.Pasteurellaceae</text>
<text x="620.29" y="1908.15" font-size="25.93" textLength="37.91" lengthAdjust="spacingAndGlyphs" fill="#000">the</text>
<text x="664.04" y="1908.15" font-size="25.93" textLength="67.60" lengthAdjust="spacingAndGlyphs" fill="#000">Dutch</text>
<text x="738.18" y="1908.15" font-size="25.93" textLength="136.30" lengthAdjust="spacingAndGlyphs" fill="#000">microbiome</text>
<text x="880.80" y="1908.15" font-size="25.93" textLength="80.02" lengthAdjust="spacingAndGlyphs" fill="#000">project</text>
<text x="1061.35" y="1908.15" font-size="25.93" textLength="27.00" lengthAdjust="spacingAndGlyphs" fill="#000">15</text>
<text x="1209.20" y="1908.15" font-size="25.93" textLength="63.94" lengthAdjust="spacingAndGlyphs" fill="#000">0.074</text>
<text x="1337.11" y="1908.15" font-size="25.93" textLength="63.71" lengthAdjust="spacingAndGlyphs" fill="#000">0.043</text>
<text x="2364.61" y="1908.15" font-size="25.93" textLength="63.65" lengthAdjust="spacingAndGlyphs" fill="#000">0.861</text>
<text x="2434.89" y="1908.15" font-size="25.93" textLength="156.95" lengthAdjust="spacingAndGlyphs" fill="#000">[0.744−0.996]</text>
<text x="2669.91" y="1908.15" font-size="25.93" textLength="63.64" lengthAdjust="spacingAndGlyphs" fill="#000">0.538</text>
<text x="2955.80" y="1908.15" font-size="25.93" textLength="63.94" lengthAdjust="spacingAndGlyphs" fill="#000">0.270</text>
<text x="29.65" y="1953.10" font-size="25.93" textLength="207.29" lengthAdjust="spacingAndGlyphs" fill="#000">f.Enterococcaceae</text>
<text x="620.29" y="1953.10" font-size="25.93" textLength="37.91" lengthAdjust="spacingAndGlyphs" fill="#000">the</text>
<text x="664.27" y="1953.10" font-size="25.93" textLength="56.03" lengthAdjust="spacingAndGlyphs" fill="#000">FR02</text>
<text x="726.40" y="1953.10" font-size="25.93" textLength="74.60" lengthAdjust="spacingAndGlyphs" fill="#000">cohort</text>
<text x="1061.92" y="1953.10" font-size="25.93" textLength="28.27" lengthAdjust="spacingAndGlyphs" fill="#000">23</text>
<text x="1209.21" y="1953.10" font-size="25.93" textLength="63.71" lengthAdjust="spacingAndGlyphs" fill="#000">0.013</text>
<text x="1337.10" y="1953.10" font-size="25.93" textLength="63.92" lengthAdjust="spacingAndGlyphs" fill="#000">0.019</text>
<text x="2364.60" y="1953.10" font-size="25.93" textLength="63.94" lengthAdjust="spacingAndGlyphs" fill="#000">0.970</text>
<text x="2434.89" y="1953.10" font-size="25.93" textLength="156.95" lengthAdjust="spacingAndGlyphs" fill="#000">[0.946−0.995]</text>
<text x="2669.91" y="1953.10" font-size="25.93" textLength="63.64" lengthAdjust="spacingAndGlyphs" fill="#000">0.488</text>
<text x="2955.80" y="1953.10" font-size="25.93" textLength="63.81" lengthAdjust="spacingAndGlyphs" fill="#000">0.336</text>
<text x="28.97" y="1998.05" font-size="25.93" textLength="142.29" lengthAdjust="spacingAndGlyphs" fill="#000">g.Barnesiella</text>
<text x="620.29" y="1998.05" font-size="25.93" textLength="37.91" lengthAdjust="spacingAndGlyphs" fill="#000">the</text>
<text x="664.04" y="1998.05" font-size="25.93" textLength="67.60" lengthAdjust="spacingAndGlyphs" fill="#000">Dutch</text>
<text x="738.18" y="1998.05" font-size="25.93" textLength="136.30" lengthAdjust="spacingAndGlyphs" fill="#000">microbiome</text>
<text x="880.80" y="1998.05" font-size="25.93" textLength="80.02" lengthAdjust="spacingAndGlyphs" fill="#000">project</text>
<text x="1061.28" y="1998.05" font-size="25.93" textLength="27.97" lengthAdjust="spacingAndGlyphs" fill="#000">14</text>
<text x="1209.22" y="1998.05" font-size="25.93" textLength="63.06" lengthAdjust="spacingAndGlyphs" fill="#000">0.045</text>
<text x="1337.11" y="1998.05" font-size="25.93" textLength="63.71" lengthAdjust="spacingAndGlyphs" fill="#000">0.013</text>
<text x="2363.68" y="1998.05" font-size="25.93" textLength="63.16" lengthAdjust="spacingAndGlyphs" fill="#000">1.120</text>
<text x="2433.21" y="1998.05" font-size="25.93" textLength="156.95" lengthAdjust="spacingAndGlyphs" fill="#000">[1.025−1.224]</text>
<text x="2669.90" y="1998.05" font-size="25.93" textLength="63.92" lengthAdjust="spacingAndGlyphs" fill="#000">0.609</text>
<text x="2955.80" y="1998.05" font-size="25.93" textLength="63.92" lengthAdjust="spacingAndGlyphs" fill="#000">0.619</text>
<text x="28.94" y="2043.00" font-size="25.93" textLength="136.51" lengthAdjust="spacingAndGlyphs" fill="#000">g.Veillonella</text>
<text x="620.29" y="2043.00" font-size="25.93" textLength="37.91" lengthAdjust="spacingAndGlyphs" fill="#000">the</text>
<text x="664.04" y="2043.00" font-size="25.93" textLength="67.60" lengthAdjust="spacingAndGlyphs" fill="#000">Dutch</text>
<text x="738.18" y="2043.00" font-size="25.93" textLength="136.30" lengthAdjust="spacingAndGlyphs" fill="#000">microbiome</text>
<text x="880.80" y="2043.00" font-size="25.93" textLength="80.02" lengthAdjust="spacingAndGlyphs" fill="#000">project</text>
<text x="1061.28" y="2043.00" font-size="25.93" textLength="27.97" lengthAdjust="spacingAndGlyphs" fill="#000">14</text>
<text x="1209.22" y="2043.00" font-size="25.93" textLength="63.06" lengthAdjust="spacingAndGlyphs" fill="#000">0.075</text>
<text x="1337.10" y="2043.00" font-size="25.93" textLength="63.81" lengthAdjust="spacingAndGlyphs" fill="#000">0.036</text>
<text x="2364.62" y="2043.00" font-size="25.93" textLength="63.06" lengthAdjust="spacingAndGlyphs" fill="#000">0.855</text>
<text x="2434.89" y="2043.00" font-size="25.93" textLength="156.95" lengthAdjust="spacingAndGlyphs" fill="#000">[0.738−0.990]</text>
<text x="2669.92" y="2043.00" font-size="25.93" textLength="63.06" lengthAdjust="spacingAndGlyphs" fill="#000">0.855</text>
<text x="2955.80" y="2043.00" font-size="25.93" textLength="63.75" lengthAdjust="spacingAndGlyphs" fill="#000">0.272</text>
<text x="28.94" y="2087.95" font-size="25.93" textLength="128.02" lengthAdjust="spacingAndGlyphs" fill="#000">g.Sutterella</text>
<text x="620.29" y="2087.95" font-size="25.93" textLength="37.91" lengthAdjust="spacingAndGlyphs" fill="#000">the</text>
<text x="664.04" y="2087.95" font-size="25.93" textLength="67.60" lengthAdjust="spacingAndGlyphs" fill="#000">Dutch</text>
<text x="738.18" y="2087.95" font-size="25.93" textLength="136.30" lengthAdjust="spacingAndGlyphs" fill="#000">microbiome</text>
<text x="880.80" y="2087.95" font-size="25.93" textLength="80.02" lengthAdjust="spacingAndGlyphs" fill="#000">project</text>
<text x="1061.35" y="2087.95" font-size="25.93" textLength="27.00" lengthAdjust="spacingAndGlyphs" fill="#000">15</text>
<text x="1209.20" y="2087.95" font-size="25.93" textLength="63.92" lengthAdjust="spacingAndGlyphs" fill="#000">0.049</text>
<text x="1337.10" y="2087.95" font-size="25.93" textLength="63.92" lengthAdjust="spacingAndGlyphs" fill="#000">0.029</text>
<text x="2364.61" y="2087.95" font-size="25.93" textLength="63.64" lengthAdjust="spacingAndGlyphs" fill="#000">0.898</text>
<text x="2434.89" y="2087.95" font-size="25.93" textLength="156.95" lengthAdjust="spacingAndGlyphs" fill="#000">[0.816−0.989]</text>
<text x="2669.91" y="2087.95" font-size="25.93" textLength="63.65" lengthAdjust="spacingAndGlyphs" fill="#000">0.551</text>
<text x="2955.81" y="2087.95" font-size="25.93" textLength="63.71" lengthAdjust="spacingAndGlyphs" fill="#000">0.533</text>
<text x="28.97" y="2132.90" font-size="25.93" textLength="124.97" lengthAdjust="spacingAndGlyphs" fill="#000">g.Klebsiella</text>
<text x="162.00" y="2132.90" font-size="25.93" textLength="15.98" lengthAdjust="spacingAndGlyphs" fill="#000">A</text>
<text x="620.29" y="2132.90" font-size="25.93" textLength="37.91" lengthAdjust="spacingAndGlyphs" fill="#000">the</text>
<text x="664.27" y="2132.90" font-size="25.93" textLength="56.03" lengthAdjust="spacingAndGlyphs" fill="#000">FR02</text>
<text x="726.40" y="2132.90" font-size="25.93" textLength="74.60" lengthAdjust="spacingAndGlyphs" fill="#000">cohort</text>
<text x="1061.92" y="2132.90" font-size="25.93" textLength="28.27" lengthAdjust="spacingAndGlyphs" fill="#000">23</text>
<text x="1209.20" y="2132.90" font-size="25.93" textLength="63.94" lengthAdjust="spacingAndGlyphs" fill="#000">0.024</text>
<text x="1337.11" y="2132.90" font-size="25.93" textLength="63.71" lengthAdjust="spacingAndGlyphs" fill="#000">0.003</text>
<text x="2364.60" y="2132.90" font-size="25.93" textLength="63.75" lengthAdjust="spacingAndGlyphs" fill="#000">0.932</text>
<text x="2434.89" y="2132.90" font-size="25.93" textLength="156.95" lengthAdjust="spacingAndGlyphs" fill="#000">[0.889−0.977]</text>
<text x="2669.91" y="2132.90" font-size="25.93" textLength="63.64" lengthAdjust="spacingAndGlyphs" fill="#000">0.808</text>
<text x="2955.81" y="2132.90" font-size="25.93" textLength="63.71" lengthAdjust="spacingAndGlyphs" fill="#000">0.443</text>
<text x="28.96" y="2177.85" font-size="25.93" textLength="171.32" lengthAdjust="spacingAndGlyphs" fill="#000">g.Enterococcus</text>
<text x="620.29" y="2177.85" font-size="25.93" textLength="37.91" lengthAdjust="spacingAndGlyphs" fill="#000">the</text>
<text x="664.27" y="2177.85" font-size="25.93" textLength="56.03" lengthAdjust="spacingAndGlyphs" fill="#000">FR02</text>
<text x="726.40" y="2177.85" font-size="25.93" textLength="74.60" lengthAdjust="spacingAndGlyphs" fill="#000">cohort</text>
<text x="1061.92" y="2177.85" font-size="25.93" textLength="28.27" lengthAdjust="spacingAndGlyphs" fill="#000">23</text>
<text x="1209.20" y="2177.85" font-size="25.93" textLength="63.94" lengthAdjust="spacingAndGlyphs" fill="#000">0.014</text>
<text x="1337.10" y="2177.85" font-size="25.93" textLength="63.94" lengthAdjust="spacingAndGlyphs" fill="#000">0.024</text>
<text x="2364.61" y="2177.85" font-size="25.93" textLength="63.64" lengthAdjust="spacingAndGlyphs" fill="#000">0.968</text>
<text x="2434.89" y="2177.85" font-size="25.93" textLength="156.95" lengthAdjust="spacingAndGlyphs" fill="#000">[0.941−0.996]</text>
<text x="2669.92" y="2177.85" font-size="25.93" textLength="63.06" lengthAdjust="spacingAndGlyphs" fill="#000">0.595</text>
<text x="2955.80" y="2177.85" font-size="25.93" textLength="63.94" lengthAdjust="spacingAndGlyphs" fill="#000">0.364</text>
<text x="28.92" y="2222.80" font-size="25.93" textLength="147.58" lengthAdjust="spacingAndGlyphs" fill="#000">g.Citrobacter</text>
<text x="182.96" y="2222.80" font-size="25.93" textLength="15.98" lengthAdjust="spacingAndGlyphs" fill="#000">A</text>
<text x="620.29" y="2222.80" font-size="25.93" textLength="37.91" lengthAdjust="spacingAndGlyphs" fill="#000">the</text>
<text x="664.27" y="2222.80" font-size="25.93" textLength="56.03" lengthAdjust="spacingAndGlyphs" fill="#000">FR02</text>
<text x="726.40" y="2222.80" font-size="25.93" textLength="74.60" lengthAdjust="spacingAndGlyphs" fill="#000">cohort</text>
<text x="1061.92" y="2222.80" font-size="25.93" textLength="28.27" lengthAdjust="spacingAndGlyphs" fill="#000">23</text>
<text x="1209.20" y="2222.80" font-size="25.93" textLength="49.67" lengthAdjust="spacingAndGlyphs" fill="#000">0.02</text>
<text x="1337.10" y="2222.80" font-size="25.93" textLength="63.75" lengthAdjust="spacingAndGlyphs" fill="#000">0.022</text>
<text x="2364.60" y="2222.80" font-size="25.93" textLength="63.81" lengthAdjust="spacingAndGlyphs" fill="#000">0.956</text>
<text x="2434.89" y="2222.80" font-size="25.93" textLength="156.95" lengthAdjust="spacingAndGlyphs" fill="#000">[0.920−0.994]</text>
<text x="2669.90" y="2222.80" font-size="25.93" textLength="64.05" lengthAdjust="spacingAndGlyphs" fill="#000">0.907</text>
<text x="2955.80" y="2222.80" font-size="25.93" textLength="63.75" lengthAdjust="spacingAndGlyphs" fill="#000">0.552</text>
<text x="28.93" y="2267.75" font-size="25.93" textLength="216.12" lengthAdjust="spacingAndGlyphs" fill="#000">g.Corynebacterium</text>
<text x="620.29" y="2267.75" font-size="25.93" textLength="37.91" lengthAdjust="spacingAndGlyphs" fill="#000">the</text>
<text x="664.27" y="2267.75" font-size="25.93" textLength="56.03" lengthAdjust="spacingAndGlyphs" fill="#000">FR02</text>
<text x="726.40" y="2267.75" font-size="25.93" textLength="74.60" lengthAdjust="spacingAndGlyphs" fill="#000">cohort</text>
<text x="1061.92" y="2267.75" font-size="25.93" textLength="28.27" lengthAdjust="spacingAndGlyphs" fill="#000">23</text>
<text x="1209.20" y="2267.75" font-size="25.93" textLength="63.92" lengthAdjust="spacingAndGlyphs" fill="#000">0.009</text>
<text x="1337.10" y="2267.75" font-size="25.93" textLength="63.94" lengthAdjust="spacingAndGlyphs" fill="#000">0.044</text>
<text x="2364.60" y="2267.75" font-size="25.93" textLength="63.75" lengthAdjust="spacingAndGlyphs" fill="#000">0.982</text>
<text x="2434.89" y="2267.75" font-size="25.93" textLength="156.95" lengthAdjust="spacingAndGlyphs" fill="#000">[0.965−1.000]</text>
<text x="2669.91" y="2267.75" font-size="25.93" textLength="63.64" lengthAdjust="spacingAndGlyphs" fill="#000">0.258</text>
<text x="2955.80" y="2267.75" font-size="25.93" textLength="63.94" lengthAdjust="spacingAndGlyphs" fill="#000">0.790</text>
<text x="28.94" y="2312.70" font-size="25.93" textLength="194.24" lengthAdjust="spacingAndGlyphs" fill="#000">g.Rhodanobacter</text>
<text x="620.29" y="2312.70" font-size="25.93" textLength="37.91" lengthAdjust="spacingAndGlyphs" fill="#000">the</text>
<text x="664.27" y="2312.70" font-size="25.93" textLength="56.03" lengthAdjust="spacingAndGlyphs" fill="#000">FR02</text>
<text x="726.40" y="2312.70" font-size="25.93" textLength="74.60" lengthAdjust="spacingAndGlyphs" fill="#000">cohort</text>
<text x="1061.92" y="2312.70" font-size="25.93" textLength="28.27" lengthAdjust="spacingAndGlyphs" fill="#000">23</text>
<text x="1209.21" y="2312.70" font-size="25.93" textLength="63.65" lengthAdjust="spacingAndGlyphs" fill="#000">0.011</text>
<text x="1337.10" y="2312.70" font-size="25.93" textLength="63.94" lengthAdjust="spacingAndGlyphs" fill="#000">0.044</text>
<text x="2364.61" y="2312.70" font-size="25.93" textLength="63.64" lengthAdjust="spacingAndGlyphs" fill="#000">0.978</text>
<text x="2434.89" y="2312.70" font-size="25.93" textLength="156.95" lengthAdjust="spacingAndGlyphs" fill="#000">[0.956−0.999]</text>
<text x="2669.90" y="2312.70" font-size="25.93" textLength="64.05" lengthAdjust="spacingAndGlyphs" fill="#000">0.217</text>
<text x="2955.80" y="2312.70" font-size="25.93" textLength="63.75" lengthAdjust="spacingAndGlyphs" fill="#000">0.522</text>
<text x="29.32" y="2357.65" font-size="25.93" textLength="139.64" lengthAdjust="spacingAndGlyphs" fill="#000">s.Barnesiella</text>
<text x="176.67" y="2357.65" font-size="25.93" textLength="181.70" lengthAdjust="spacingAndGlyphs" fill="#000">intestinihominis</text>
<text x="620.29" y="2357.65" font-size="25.93" textLength="37.91" lengthAdjust="spacingAndGlyphs" fill="#000">the</text>
<text x="664.04" y="2357.65" font-size="25.93" textLength="67.60" lengthAdjust="spacingAndGlyphs" fill="#000">Dutch</text>
<text x="738.18" y="2357.65" font-size="25.93" textLength="136.30" lengthAdjust="spacingAndGlyphs" fill="#000">microbiome</text>
<text x="880.80" y="2357.65" font-size="25.93" textLength="80.02" lengthAdjust="spacingAndGlyphs" fill="#000">project</text>
<text x="1061.28" y="2357.65" font-size="25.93" textLength="27.97" lengthAdjust="spacingAndGlyphs" fill="#000">14</text>
<text x="1209.22" y="2357.65" font-size="25.93" textLength="63.06" lengthAdjust="spacingAndGlyphs" fill="#000">0.045</text>
<text x="1337.10" y="2357.65" font-size="25.93" textLength="63.75" lengthAdjust="spacingAndGlyphs" fill="#000">0.012</text>
<text x="2363.69" y="2357.65" font-size="25.93" textLength="62.87" lengthAdjust="spacingAndGlyphs" fill="#000">1.121</text>
<text x="2433.21" y="2357.65" font-size="25.93" textLength="156.95" lengthAdjust="spacingAndGlyphs" fill="#000">[1.025−1.225]</text>
<text x="2669.91" y="2357.65" font-size="25.93" textLength="63.71" lengthAdjust="spacingAndGlyphs" fill="#000">0.623</text>
<text x="2955.80" y="2357.65" font-size="25.93" textLength="63.94" lengthAdjust="spacingAndGlyphs" fill="#000">0.634</text>
<text x="29.30" y="2402.60" font-size="25.93" textLength="125.36" lengthAdjust="spacingAndGlyphs" fill="#000">s.Sutterella</text>
<text x="162.98" y="2402.60" font-size="25.93" textLength="183.04" lengthAdjust="spacingAndGlyphs" fill="#000">wadsworthensis</text>
<text x="620.29" y="2402.60" font-size="25.93" textLength="37.91" lengthAdjust="spacingAndGlyphs" fill="#000">the</text>
<text x="664.04" y="2402.60" font-size="25.93" textLength="67.60" lengthAdjust="spacingAndGlyphs" fill="#000">Dutch</text>
<text x="738.18" y="2402.60" font-size="25.93" textLength="136.30" lengthAdjust="spacingAndGlyphs" fill="#000">microbiome</text>
<text x="880.80" y="2402.60" font-size="25.93" textLength="80.02" lengthAdjust="spacingAndGlyphs" fill="#000">project</text>
<text x="1061.35" y="2402.60" font-size="25.93" textLength="27.00" lengthAdjust="spacingAndGlyphs" fill="#000">15</text>
<text x="1209.20" y="2402.60" font-size="25.93" textLength="63.92" lengthAdjust="spacingAndGlyphs" fill="#000">0.049</text>
<text x="1337.10" y="2402.60" font-size="25.93" textLength="63.75" lengthAdjust="spacingAndGlyphs" fill="#000">0.032</text>
<text x="2364.60" y="2402.60" font-size="25.93" textLength="63.94" lengthAdjust="spacingAndGlyphs" fill="#000">0.900</text>
<text x="2434.89" y="2402.60" font-size="25.93" textLength="156.95" lengthAdjust="spacingAndGlyphs" fill="#000">[0.818−0.991]</text>
<text x="2669.90" y="2402.60" font-size="25.93" textLength="63.81" lengthAdjust="spacingAndGlyphs" fill="#000">0.546</text>
<text x="2955.80" y="2402.60" font-size="25.93" textLength="63.92" lengthAdjust="spacingAndGlyphs" fill="#000">0.499</text>
<text x="29.33" y="2447.55" font-size="25.93" textLength="142.67" lengthAdjust="spacingAndGlyphs" fill="#000">s.Escherichia</text>
<text x="180.06" y="2447.55" font-size="25.93" textLength="131.70" lengthAdjust="spacingAndGlyphs" fill="#000">unclassified</text>
<text x="620.29" y="2447.55" font-size="25.93" textLength="37.91" lengthAdjust="spacingAndGlyphs" fill="#000">the</text>
<text x="664.04" y="2447.55" font-size="25.93" textLength="67.60" lengthAdjust="spacingAndGlyphs" fill="#000">Dutch</text>
<text x="738.18" y="2447.55" font-size="25.93" textLength="136.30" lengthAdjust="spacingAndGlyphs" fill="#000">microbiome</text>
<text x="880.80" y="2447.55" font-size="25.93" textLength="80.02" lengthAdjust="spacingAndGlyphs" fill="#000">project</text>
<text x="1061.35" y="2447.55" font-size="25.93" textLength="27.00" lengthAdjust="spacingAndGlyphs" fill="#000">15</text>
<text x="1209.20" y="2447.55" font-size="25.93" textLength="63.92" lengthAdjust="spacingAndGlyphs" fill="#000">0.059</text>
<text x="1337.10" y="2447.55" font-size="25.93" textLength="63.75" lengthAdjust="spacingAndGlyphs" fill="#000">0.042</text>
<text x="2364.61" y="2447.55" font-size="25.93" textLength="63.64" lengthAdjust="spacingAndGlyphs" fill="#000">0.888</text>
<text x="2434.89" y="2447.55" font-size="25.93" textLength="156.95" lengthAdjust="spacingAndGlyphs" fill="#000">[0.792−0.996]</text>
<text x="2669.92" y="2447.55" font-size="25.93" textLength="63.06" lengthAdjust="spacingAndGlyphs" fill="#000">0.215</text>
<text x="2955.81" y="2447.55" font-size="25.93" textLength="63.64" lengthAdjust="spacingAndGlyphs" fill="#000">0.428</text>
<text x="29.32" y="2492.50" font-size="25.93" textLength="205.94" lengthAdjust="spacingAndGlyphs" fill="#000">s.Lachnospiraceae</text>
<text x="241.78" y="2492.50" font-size="25.93" textLength="237.70" lengthAdjust="spacingAndGlyphs" fill="#000">bacterium.1.1.57FAA</text>
<text x="620.29" y="2492.50" font-size="25.93" textLength="37.91" lengthAdjust="spacingAndGlyphs" fill="#000">the</text>
<text x="664.04" y="2492.50" font-size="25.93" textLength="67.60" lengthAdjust="spacingAndGlyphs" fill="#000">Dutch</text>
<text x="738.18" y="2492.50" font-size="25.93" textLength="136.30" lengthAdjust="spacingAndGlyphs" fill="#000">microbiome</text>
<text x="880.80" y="2492.50" font-size="25.93" textLength="80.02" lengthAdjust="spacingAndGlyphs" fill="#000">project</text>
<text x="1061.30" y="2492.50" font-size="25.93" textLength="27.71" lengthAdjust="spacingAndGlyphs" fill="#000">13</text>
<text x="1209.20" y="2492.50" font-size="25.93" textLength="63.94" lengthAdjust="spacingAndGlyphs" fill="#000">0.120</text>
<text x="1337.10" y="2492.50" font-size="25.93" textLength="63.81" lengthAdjust="spacingAndGlyphs" fill="#000">0.036</text>
<text x="2364.61" y="2492.50" font-size="25.93" textLength="63.64" lengthAdjust="spacingAndGlyphs" fill="#000">0.778</text>
<text x="2434.89" y="2492.50" font-size="25.93" textLength="156.95" lengthAdjust="spacingAndGlyphs" fill="#000">[0.615−0.983]</text>
<text x="2669.90" y="2492.50" font-size="25.93" textLength="63.92" lengthAdjust="spacingAndGlyphs" fill="#000">0.889</text>
<text x="2955.80" y="2492.50" font-size="25.93" textLength="64.05" lengthAdjust="spacingAndGlyphs" fill="#000">0.547</text>
<text x="29.32" y="2537.45" font-size="25.93" textLength="148.69" lengthAdjust="spacingAndGlyphs" fill="#000">s.Johnsonella</text>
<text x="185.87" y="2537.45" font-size="25.93" textLength="71.68" lengthAdjust="spacingAndGlyphs" fill="#000">ignava</text>
<text x="620.29" y="2537.45" font-size="25.93" textLength="37.91" lengthAdjust="spacingAndGlyphs" fill="#000">the</text>
<text x="664.27" y="2537.45" font-size="25.93" textLength="56.03" lengthAdjust="spacingAndGlyphs" fill="#000">FR02</text>
<text x="726.40" y="2537.45" font-size="25.93" textLength="74.60" lengthAdjust="spacingAndGlyphs" fill="#000">cohort</text>
<text x="1061.92" y="2537.45" font-size="25.93" textLength="28.27" lengthAdjust="spacingAndGlyphs" fill="#000">23</text>
<text x="1209.21" y="2537.45" font-size="25.93" textLength="63.64" lengthAdjust="spacingAndGlyphs" fill="#000">0.018</text>
<text x="1337.10" y="2537.45" font-size="25.93" textLength="63.75" lengthAdjust="spacingAndGlyphs" fill="#000">0.002</text>
<text x="2364.60" y="2537.45" font-size="25.93" textLength="63.94" lengthAdjust="spacingAndGlyphs" fill="#000">0.944</text>
<text x="2434.89" y="2537.45" font-size="25.93" textLength="156.95" lengthAdjust="spacingAndGlyphs" fill="#000">[0.911−0.979]</text>
<text x="2669.90" y="2537.45" font-size="25.93" textLength="63.92" lengthAdjust="spacingAndGlyphs" fill="#000">0.589</text>
<text x="2955.81" y="2537.45" font-size="25.93" textLength="63.65" lengthAdjust="spacingAndGlyphs" fill="#000">0.741</text>
<text x="29.33" y="2582.40" font-size="25.93" textLength="169.80" lengthAdjust="spacingAndGlyphs" fill="#000">s.Faecalicatena</text>
<text x="207.39" y="2582.40" font-size="25.93" textLength="80.73" lengthAdjust="spacingAndGlyphs" fill="#000">lactaris</text>
<text x="620.29" y="2582.40" font-size="25.93" textLength="37.91" lengthAdjust="spacingAndGlyphs" fill="#000">the</text>
<text x="664.27" y="2582.40" font-size="25.93" textLength="56.03" lengthAdjust="spacingAndGlyphs" fill="#000">FR02</text>
<text x="726.40" y="2582.40" font-size="25.93" textLength="74.60" lengthAdjust="spacingAndGlyphs" fill="#000">cohort</text>
<text x="1061.92" y="2582.40" font-size="25.93" textLength="28.27" lengthAdjust="spacingAndGlyphs" fill="#000">23</text>
<text x="1209.21" y="2582.40" font-size="25.93" textLength="63.65" lengthAdjust="spacingAndGlyphs" fill="#000">0.041</text>
<text x="1337.11" y="2582.40" font-size="25.93" textLength="63.71" lengthAdjust="spacingAndGlyphs" fill="#000">0.013</text>
<text x="2364.60" y="2582.40" font-size="25.93" textLength="63.94" lengthAdjust="spacingAndGlyphs" fill="#000">0.904</text>
<text x="2434.89" y="2582.40" font-size="25.93" textLength="156.95" lengthAdjust="spacingAndGlyphs" fill="#000">[0.835−0.979]</text>
<text x="2669.90" y="2582.40" font-size="25.93" textLength="63.94" lengthAdjust="spacingAndGlyphs" fill="#000">0.074</text>
<text x="2955.80" y="2582.40" font-size="25.93" textLength="63.81" lengthAdjust="spacingAndGlyphs" fill="#000">0.636</text>
<text x="29.32" y="2627.35" font-size="25.93" textLength="176.18" lengthAdjust="spacingAndGlyphs" fill="#000">s.Pseudomonas</text>
<text x="211.91" y="2627.35" font-size="25.93" textLength="122.57" lengthAdjust="spacingAndGlyphs" fill="#000">aeruginosa</text>
<text x="620.29" y="2627.35" font-size="25.93" textLength="37.91" lengthAdjust="spacingAndGlyphs" fill="#000">the</text>
<text x="664.27" y="2627.35" font-size="25.93" textLength="56.03" lengthAdjust="spacingAndGlyphs" fill="#000">FR02</text>
<text x="726.40" y="2627.35" font-size="25.93" textLength="74.60" lengthAdjust="spacingAndGlyphs" fill="#000">cohort</text>
<text x="1061.92" y="2627.35" font-size="25.93" textLength="28.27" lengthAdjust="spacingAndGlyphs" fill="#000">23</text>
<text x="1209.22" y="2627.35" font-size="25.93" textLength="63.06" lengthAdjust="spacingAndGlyphs" fill="#000">0.015</text>
<text x="1337.11" y="2627.35" font-size="25.93" textLength="63.71" lengthAdjust="spacingAndGlyphs" fill="#000">0.023</text>
<text x="2364.60" y="2627.35" font-size="25.93" textLength="64.05" lengthAdjust="spacingAndGlyphs" fill="#000">0.967</text>
<text x="2434.89" y="2627.35" font-size="25.93" textLength="156.95" lengthAdjust="spacingAndGlyphs" fill="#000">[0.939−0.995]</text>
<text x="2669.90" y="2627.35" font-size="25.93" textLength="63.92" lengthAdjust="spacingAndGlyphs" fill="#000">0.909</text>
<text x="2955.81" y="2627.35" font-size="25.93" textLength="63.64" lengthAdjust="spacingAndGlyphs" fill="#000">0.568</text>
<text x="29.30" y="2672.30" font-size="25.93" textLength="194.72" lengthAdjust="spacingAndGlyphs" fill="#000">s.Negativibacillus</text>
<text x="230.69" y="2672.30" font-size="25.93" textLength="132.56" lengthAdjust="spacingAndGlyphs" fill="#000">massiliensis</text>
<text x="620.29" y="2672.30" font-size="25.93" textLength="37.91" lengthAdjust="spacingAndGlyphs" fill="#000">the</text>
<text x="664.27" y="2672.30" font-size="25.93" textLength="56.03" lengthAdjust="spacingAndGlyphs" fill="#000">FR02</text>
<text x="726.40" y="2672.30" font-size="25.93" textLength="74.60" lengthAdjust="spacingAndGlyphs" fill="#000">cohort</text>
<text x="1061.92" y="2672.30" font-size="25.93" textLength="28.27" lengthAdjust="spacingAndGlyphs" fill="#000">23</text>
<text x="1209.20" y="2672.30" font-size="25.93" textLength="63.75" lengthAdjust="spacingAndGlyphs" fill="#000">0.022</text>
<text x="1337.12" y="2672.30" font-size="25.93" textLength="63.06" lengthAdjust="spacingAndGlyphs" fill="#000">0.025</text>
<text x="2364.60" y="2672.30" font-size="25.93" textLength="63.75" lengthAdjust="spacingAndGlyphs" fill="#000">0.952</text>
<text x="2434.89" y="2672.30" font-size="25.93" textLength="156.95" lengthAdjust="spacingAndGlyphs" fill="#000">[0.912−0.994]</text>
<text x="2669.91" y="2672.30" font-size="25.93" textLength="63.65" lengthAdjust="spacingAndGlyphs" fill="#000">0.861</text>
<text x="2955.80" y="2672.30" font-size="25.93" textLength="64.05" lengthAdjust="spacingAndGlyphs" fill="#000">0.567</text>
<text x="29.34" y="2717.25" font-size="25.93" textLength="122.32" lengthAdjust="spacingAndGlyphs" fill="#000">s.CAG−269</text>
<text x="158.04" y="2717.25" font-size="25.93" textLength="151.44" lengthAdjust="spacingAndGlyphs" fill="#000">sp001915995</text>
<text x="620.29" y="2717.25" font-size="25.93" textLength="37.91" lengthAdjust="spacingAndGlyphs" fill="#000">the</text>
<text x="664.27" y="2717.25" font-size="25.93" textLength="56.03" lengthAdjust="spacingAndGlyphs" fill="#000">FR02</text>
<text x="726.40" y="2717.25" font-size="25.93" textLength="74.60" lengthAdjust="spacingAndGlyphs" fill="#000">cohort</text>
<text x="1061.92" y="2717.25" font-size="25.93" textLength="28.27" lengthAdjust="spacingAndGlyphs" fill="#000">23</text>
<text x="1209.20" y="2717.25" font-size="25.93" textLength="63.92" lengthAdjust="spacingAndGlyphs" fill="#000">0.039</text>
<text x="1337.12" y="2717.25" font-size="25.93" textLength="63.06" lengthAdjust="spacingAndGlyphs" fill="#000">0.025</text>
<text x="2363.68" y="2717.25" font-size="25.93" textLength="63.16" lengthAdjust="spacingAndGlyphs" fill="#000">1.090</text>
<text x="2433.21" y="2717.25" font-size="25.93" textLength="156.95" lengthAdjust="spacingAndGlyphs" fill="#000">[1.011−1.176]</text>
<text x="2669.91" y="2717.25" font-size="25.93" textLength="63.64" lengthAdjust="spacingAndGlyphs" fill="#000">0.218</text>
<text x="2955.80" y="2717.25" font-size="25.93" textLength="64.05" lengthAdjust="spacingAndGlyphs" fill="#000">0.697</text>
<text x="29.31" y="2762.20" font-size="25.93" textLength="150.98" lengthAdjust="spacingAndGlyphs" fill="#000">s.Bacteroides</text>
<text x="186.67" y="2762.20" font-size="25.93" textLength="15.98" lengthAdjust="spacingAndGlyphs" fill="#000">A</text>
<text x="209.25" y="2762.20" font-size="25.93" textLength="94.82" lengthAdjust="spacingAndGlyphs" fill="#000">plebeius</text>
<text x="310.44" y="2762.20" font-size="25.93" textLength="15.98" lengthAdjust="spacingAndGlyphs" fill="#000">A</text>
<text x="620.29" y="2762.20" font-size="25.93" textLength="37.91" lengthAdjust="spacingAndGlyphs" fill="#000">the</text>
<text x="664.27" y="2762.20" font-size="25.93" textLength="56.03" lengthAdjust="spacingAndGlyphs" fill="#000">FR02</text>
<text x="726.40" y="2762.20" font-size="25.93" textLength="74.60" lengthAdjust="spacingAndGlyphs" fill="#000">cohort</text>
<text x="1061.92" y="2762.20" font-size="25.93" textLength="28.27" lengthAdjust="spacingAndGlyphs" fill="#000">23</text>
<text x="1209.21" y="2762.20" font-size="25.93" textLength="63.65" lengthAdjust="spacingAndGlyphs" fill="#000">0.051</text>
<text x="1337.10" y="2762.20" font-size="25.93" textLength="64.05" lengthAdjust="spacingAndGlyphs" fill="#000">0.027</text>
<text x="2363.68" y="2762.20" font-size="25.93" textLength="63.14" lengthAdjust="spacingAndGlyphs" fill="#000">1.119</text>
<text x="2433.21" y="2762.20" font-size="25.93" textLength="156.95" lengthAdjust="spacingAndGlyphs" fill="#000">[1.013−1.237]</text>
<text x="2669.90" y="2762.20" font-size="25.93" textLength="63.94" lengthAdjust="spacingAndGlyphs" fill="#000">0.710</text>
<text x="2955.80" y="2762.20" font-size="25.93" textLength="63.92" lengthAdjust="spacingAndGlyphs" fill="#000">0.869</text>
<text x="29.31" y="2807.15" font-size="25.93" textLength="150.98" lengthAdjust="spacingAndGlyphs" fill="#000">s.Bacteroides</text>
<text x="186.86" y="2807.15" font-size="25.93" textLength="151.44" lengthAdjust="spacingAndGlyphs" fill="#000">sp002160055</text>
<text x="620.29" y="2807.15" font-size="25.93" textLength="37.91" lengthAdjust="spacingAndGlyphs" fill="#000">the</text>
<text x="664.27" y="2807.15" font-size="25.93" textLength="56.03" lengthAdjust="spacingAndGlyphs" fill="#000">FR02</text>
<text x="726.40" y="2807.15" font-size="25.93" textLength="74.60" lengthAdjust="spacingAndGlyphs" fill="#000">cohort</text>
<text x="1061.92" y="2807.15" font-size="25.93" textLength="28.27" lengthAdjust="spacingAndGlyphs" fill="#000">23</text>
<text x="1209.22" y="2807.15" font-size="25.93" textLength="63.06" lengthAdjust="spacingAndGlyphs" fill="#000">0.035</text>
<text x="1337.11" y="2807.15" font-size="25.93" textLength="63.65" lengthAdjust="spacingAndGlyphs" fill="#000">0.031</text>
<text x="2363.68" y="2807.15" font-size="25.93" textLength="63.14" lengthAdjust="spacingAndGlyphs" fill="#000">1.079</text>
<text x="2433.21" y="2807.15" font-size="25.93" textLength="156.95" lengthAdjust="spacingAndGlyphs" fill="#000">[1.007−1.156]</text>
<text x="2669.90" y="2807.15" font-size="25.93" textLength="63.92" lengthAdjust="spacingAndGlyphs" fill="#000">0.389</text>
<text x="2955.81" y="2807.15" font-size="25.93" textLength="63.64" lengthAdjust="spacingAndGlyphs" fill="#000">0.848</text>
<text x="29.31" y="2852.10" font-size="25.93" textLength="150.98" lengthAdjust="spacingAndGlyphs" fill="#000">s.Bacteroides</text>
<text x="186.67" y="2852.10" font-size="25.93" textLength="15.98" lengthAdjust="spacingAndGlyphs" fill="#000">A</text>
<text x="209.25" y="2852.10" font-size="25.93" textLength="94.82" lengthAdjust="spacingAndGlyphs" fill="#000">plebeius</text>
<text x="620.29" y="2852.10" font-size="25.93" textLength="37.91" lengthAdjust="spacingAndGlyphs" fill="#000">the</text>
<text x="664.27" y="2852.10" font-size="25.93" textLength="56.03" lengthAdjust="spacingAndGlyphs" fill="#000">FR02</text>
<text x="726.40" y="2852.10" font-size="25.93" textLength="74.60" lengthAdjust="spacingAndGlyphs" fill="#000">cohort</text>
<text x="1061.92" y="2852.10" font-size="25.93" textLength="28.27" lengthAdjust="spacingAndGlyphs" fill="#000">23</text>
<text x="1209.20" y="2852.10" font-size="25.93" textLength="63.92" lengthAdjust="spacingAndGlyphs" fill="#000">0.049</text>
<text x="1337.11" y="2852.10" font-size="25.93" textLength="63.65" lengthAdjust="spacingAndGlyphs" fill="#000">0.031</text>
<text x="2363.68" y="2852.10" font-size="25.93" textLength="63.16" lengthAdjust="spacingAndGlyphs" fill="#000">1.110</text>
<text x="2433.21" y="2852.10" font-size="25.93" textLength="156.95" lengthAdjust="spacingAndGlyphs" fill="#000">[1.010−1.221]</text>
<text x="2669.90" y="2852.10" font-size="25.93" textLength="64.05" lengthAdjust="spacingAndGlyphs" fill="#000">0.237</text>
<text x="2955.80" y="2852.10" font-size="25.93" textLength="63.75" lengthAdjust="spacingAndGlyphs" fill="#000">0.422</text>
<text x="29.32" y="2897.05" font-size="25.93" textLength="123.35" lengthAdjust="spacingAndGlyphs" fill="#000">s.UBA1777</text>
<text x="158.88" y="2897.05" font-size="25.93" textLength="151.44" lengthAdjust="spacingAndGlyphs" fill="#000">sp900319275</text>
<text x="620.29" y="2897.05" font-size="25.93" textLength="37.91" lengthAdjust="spacingAndGlyphs" fill="#000">the</text>
<text x="664.27" y="2897.05" font-size="25.93" textLength="56.03" lengthAdjust="spacingAndGlyphs" fill="#000">FR02</text>
<text x="726.40" y="2897.05" font-size="25.93" textLength="74.60" lengthAdjust="spacingAndGlyphs" fill="#000">cohort</text>
<text x="1061.92" y="2897.05" font-size="25.93" textLength="28.27" lengthAdjust="spacingAndGlyphs" fill="#000">23</text>
<text x="1209.20" y="2897.05" font-size="25.93" textLength="63.81" lengthAdjust="spacingAndGlyphs" fill="#000">0.016</text>
<text x="1337.12" y="2897.05" font-size="25.93" textLength="63.06" lengthAdjust="spacingAndGlyphs" fill="#000">0.035</text>
<text x="2364.61" y="2897.05" font-size="25.93" textLength="63.64" lengthAdjust="spacingAndGlyphs" fill="#000">0.968</text>
<text x="2434.89" y="2897.05" font-size="25.93" textLength="156.95" lengthAdjust="spacingAndGlyphs" fill="#000">[0.939−0.998]</text>
<text x="2669.90" y="2897.05" font-size="25.93" textLength="63.94" lengthAdjust="spacingAndGlyphs" fill="#000">0.310</text>
<text x="2955.80" y="2897.05" font-size="25.93" textLength="64.05" lengthAdjust="spacingAndGlyphs" fill="#000">0.287</text>
<text x="29.31" y="2942.00" font-size="25.93" textLength="168.66" lengthAdjust="spacingAndGlyphs" fill="#000">s.Enterococcus</text>
<text x="204.28" y="2942.00" font-size="25.93" textLength="84.33" lengthAdjust="spacingAndGlyphs" fill="#000">faecalis</text>
<text x="620.29" y="2942.00" font-size="25.93" textLength="37.91" lengthAdjust="spacingAndGlyphs" fill="#000">the</text>
<text x="664.27" y="2942.00" font-size="25.93" textLength="56.03" lengthAdjust="spacingAndGlyphs" fill="#000">FR02</text>
<text x="726.40" y="2942.00" font-size="25.93" textLength="74.60" lengthAdjust="spacingAndGlyphs" fill="#000">cohort</text>
<text x="1061.92" y="2942.00" font-size="25.93" textLength="28.27" lengthAdjust="spacingAndGlyphs" fill="#000">23</text>
<text x="1209.21" y="2942.00" font-size="25.93" textLength="63.64" lengthAdjust="spacingAndGlyphs" fill="#000">0.018</text>
<text x="1337.11" y="2942.00" font-size="25.93" textLength="63.64" lengthAdjust="spacingAndGlyphs" fill="#000">0.038</text>
<text x="2364.61" y="2942.00" font-size="25.93" textLength="63.71" lengthAdjust="spacingAndGlyphs" fill="#000">0.963</text>
<text x="2434.89" y="2942.00" font-size="25.93" textLength="156.95" lengthAdjust="spacingAndGlyphs" fill="#000">[0.930−0.998]</text>
<text x="2669.90" y="2942.00" font-size="25.93" textLength="63.81" lengthAdjust="spacingAndGlyphs" fill="#000">0.406</text>
<text x="2955.80" y="2942.00" font-size="25.93" textLength="63.92" lengthAdjust="spacingAndGlyphs" fill="#000">0.859</text>
<text x="29.34" y="2986.95" font-size="25.93" textLength="110.64" lengthAdjust="spacingAndGlyphs" fill="#000">s.RUG147</text>
<text x="146.22" y="2986.95" font-size="25.93" textLength="151.44" lengthAdjust="spacingAndGlyphs" fill="#000">sp900315495</text>
<text x="620.29" y="2986.95" font-size="25.93" textLength="37.91" lengthAdjust="spacingAndGlyphs" fill="#000">the</text>
<text x="664.27" y="2986.95" font-size="25.93" textLength="56.03" lengthAdjust="spacingAndGlyphs" fill="#000">FR02</text>
<text x="726.40" y="2986.95" font-size="25.93" textLength="74.60" lengthAdjust="spacingAndGlyphs" fill="#000">cohort</text>
<text x="1061.92" y="2986.95" font-size="25.93" textLength="28.27" lengthAdjust="spacingAndGlyphs" fill="#000">23</text>
<text x="1209.20" y="2986.95" font-size="25.93" textLength="63.94" lengthAdjust="spacingAndGlyphs" fill="#000">0.014</text>
<text x="1337.11" y="2986.95" font-size="25.93" textLength="63.65" lengthAdjust="spacingAndGlyphs" fill="#000">0.041</text>
<text x="2364.60" y="2986.95" font-size="25.93" textLength="63.75" lengthAdjust="spacingAndGlyphs" fill="#000">0.972</text>
<text x="2434.89" y="2986.95" font-size="25.93" textLength="156.95" lengthAdjust="spacingAndGlyphs" fill="#000">[0.945−0.999]</text>
<text x="2669.90" y="2986.95" font-size="25.93" textLength="64.05" lengthAdjust="spacingAndGlyphs" fill="#000">0.697</text>
<text x="2955.80" y="2986.95" font-size="25.93" textLength="63.81" lengthAdjust="spacingAndGlyphs" fill="#000">0.176</text>
<text x="29.35" y="3031.90" font-size="25.93" textLength="122.06" lengthAdjust="spacingAndGlyphs" fill="#000">s.CAG−488</text>
<text x="158.04" y="3031.90" font-size="25.93" textLength="151.44" lengthAdjust="spacingAndGlyphs" fill="#000">sp000434055</text>
<text x="620.29" y="3031.90" font-size="25.93" textLength="37.91" lengthAdjust="spacingAndGlyphs" fill="#000">the</text>
<text x="664.27" y="3031.90" font-size="25.93" textLength="56.03" lengthAdjust="spacingAndGlyphs" fill="#000">FR02</text>
<text x="726.40" y="3031.90" font-size="25.93" textLength="74.60" lengthAdjust="spacingAndGlyphs" fill="#000">cohort</text>
<text x="1061.92" y="3031.90" font-size="25.93" textLength="28.27" lengthAdjust="spacingAndGlyphs" fill="#000">23</text>
<text x="1209.21" y="3031.90" font-size="25.93" textLength="63.71" lengthAdjust="spacingAndGlyphs" fill="#000">0.033</text>
<text x="1337.10" y="3031.90" font-size="25.93" textLength="63.75" lengthAdjust="spacingAndGlyphs" fill="#000">0.042</text>
<text x="2364.62" y="3031.90" font-size="25.93" textLength="63.06" lengthAdjust="spacingAndGlyphs" fill="#000">0.935</text>
<text x="2434.89" y="3031.90" font-size="25.93" textLength="156.95" lengthAdjust="spacingAndGlyphs" fill="#000">[0.876−0.998]</text>
<text x="2669.90" y="3031.90" font-size="25.93" textLength="64.05" lengthAdjust="spacingAndGlyphs" fill="#000">0.047</text>
<text x="2955.80" y="3031.90" font-size="25.93" textLength="63.92" lengthAdjust="spacingAndGlyphs" fill="#000">0.659</text>
<rect x="1746.00" y="1739.80" width="2.60" height="1304.80" fill="#d22f2f"/>
<rect x="1690.38" y="1762.40" width="45.65" height="2.60" fill="#33228c"/>
<polygon points="1688.88,1754.70 1690.38,1753.20 1691.88,1754.70 1691.88,1772.70 1690.38,1774.20 1688.88,1772.70" fill="#33228c"/>
<polygon points="1734.53,1754.70 1736.03,1753.20 1737.53,1754.70 1737.53,1772.70 1736.03,1774.20 1734.53,1772.70" fill="#33228c"/>
<rect x="1675.16" y="1807.35" width="71.01" height="2.60" fill="#33228c"/>
<polygon points="1673.66,1799.65 1675.16,1798.15 1676.66,1799.65 1676.66,1817.65 1675.16,1819.15 1673.66,1817.65" fill="#33228c"/>
<polygon points="1744.67,1799.65 1746.17,1798.15 1747.67,1799.65 1747.67,1817.65 1746.17,1819.15 1744.67,1817.65" fill="#33228c"/>
<rect x="1738.28" y="1852.30" width="9.02" height="2.60" fill="#33228c"/>
<polygon points="1736.78,1844.60 1738.28,1843.10 1739.78,1844.60 1739.78,1862.60 1738.28,1864.10 1736.78,1862.60" fill="#33228c"/>
<polygon points="1745.80,1844.60 1747.30,1843.10 1748.80,1844.60 1748.80,1862.60 1747.30,1864.10 1745.80,1862.60" fill="#33228c"/>
<rect x="1675.16" y="1897.25" width="71.01" height="2.60" fill="#33228c"/>
<polygon points="1673.66,1889.55 1675.16,1888.05 1676.66,1889.55 1676.66,1907.55 1675.16,1909.05 1673.66,1907.55" fill="#33228c"/>
<polygon points="1744.67,1889.55 1746.17,1888.05 1747.67,1889.55 1747.67,1907.55 1746.17,1909.05 1744.67,1907.55" fill="#33228c"/>
<rect x="1732.08" y="1942.20" width="13.81" height="2.60" fill="#33228c"/>
<polygon points="1730.58,1934.50 1732.08,1933.00 1733.58,1934.50 1733.58,1952.50 1732.08,1954.00 1730.58,1952.50" fill="#33228c"/>
<polygon points="1744.39,1934.50 1745.89,1933.00 1747.39,1934.50 1747.39,1952.50 1745.89,1954.00 1744.39,1952.50" fill="#33228c"/>
<rect x="1754.35" y="1987.15" width="56.08" height="2.60" fill="#933634"/>
<polygon points="1752.85,1979.45 1754.35,1977.95 1755.85,1979.45 1755.85,1997.45 1754.35,1998.95 1752.85,1997.45" fill="#933634"/>
<polygon points="1808.92,1979.45 1810.42,1977.95 1811.92,1979.45 1811.92,1997.45 1810.42,1998.95 1808.92,1997.45" fill="#933634"/>
<rect x="1673.47" y="2032.10" width="71.01" height="2.60" fill="#33228c"/>
<polygon points="1671.97,2024.40 1673.47,2022.90 1674.97,2024.40 1674.97,2042.40 1673.47,2043.90 1671.97,2042.40" fill="#33228c"/>
<polygon points="1742.98,2024.40 1744.48,2022.90 1745.98,2024.40 1745.98,2042.40 1744.48,2043.90 1742.98,2042.40" fill="#33228c"/>
<rect x="1695.45" y="2077.05" width="48.75" height="2.60" fill="#33228c"/>
<polygon points="1693.95,2069.35 1695.45,2067.85 1696.95,2069.35 1696.95,2087.35 1695.45,2088.85 1693.95,2087.35" fill="#33228c"/>
<polygon points="1742.70,2069.35 1744.20,2067.85 1745.70,2069.35 1745.70,2087.35 1744.20,2088.85 1742.70,2087.35" fill="#33228c"/>
<rect x="1716.02" y="2122.00" width="24.80" height="2.60" fill="#33228c"/>
<polygon points="1714.52,2114.30 1716.02,2112.80 1717.52,2114.30 1717.52,2132.30 1716.02,2133.80 1714.52,2132.30" fill="#33228c"/>
<polygon points="1739.32,2114.30 1740.82,2112.80 1742.32,2114.30 1742.32,2132.30 1740.82,2133.80 1739.32,2132.30" fill="#33228c"/>
<rect x="1730.67" y="2166.95" width="15.50" height="2.60" fill="#33228c"/>
<polygon points="1729.17,2159.25 1730.67,2157.75 1732.17,2159.25 1732.17,2177.25 1730.67,2178.75 1729.17,2177.25" fill="#33228c"/>
<polygon points="1744.67,2159.25 1746.17,2157.75 1747.67,2159.25 1747.67,2177.25 1746.17,2178.75 1744.67,2177.25" fill="#33228c"/>
<rect x="1724.76" y="2211.90" width="20.85" height="2.60" fill="#33228c"/>
<polygon points="1723.26,2204.20 1724.76,2202.70 1726.26,2204.20 1726.26,2222.20 1724.76,2223.70 1723.26,2222.20" fill="#33228c"/>
<polygon points="1744.11,2204.20 1745.61,2202.70 1747.11,2204.20 1747.11,2222.20 1745.61,2223.70 1744.11,2222.20" fill="#33228c"/>
<rect x="1737.44" y="2256.85" width="9.86" height="2.60" fill="#33228c"/>
<polygon points="1735.94,2249.15 1737.44,2247.65 1738.94,2249.15 1738.94,2267.15 1737.44,2268.65 1735.94,2267.15" fill="#33228c"/>
<polygon points="1745.80,2249.15 1747.30,2247.65 1748.80,2249.15 1748.80,2267.15 1747.30,2268.65 1745.80,2267.15" fill="#33228c"/>
<rect x="1734.90" y="2301.80" width="12.12" height="2.60" fill="#33228c"/>
<polygon points="1733.40,2294.10 1734.90,2292.60 1736.40,2294.10 1736.40,2312.10 1734.90,2313.60 1733.40,2312.10" fill="#33228c"/>
<polygon points="1745.52,2294.10 1747.02,2292.60 1748.52,2294.10 1748.52,2312.10 1747.02,2313.60 1745.52,2312.10" fill="#33228c"/>
<rect x="1754.35" y="2346.75" width="56.36" height="2.60" fill="#933634"/>
<polygon points="1752.85,2339.05 1754.35,2337.55 1755.85,2339.05 1755.85,2357.05 1754.35,2358.55 1752.85,2357.05" fill="#933634"/>
<polygon points="1809.20,2339.05 1810.70,2337.55 1812.20,2339.05 1812.20,2357.05 1810.70,2358.55 1809.20,2357.05" fill="#933634"/>
<rect x="1696.01" y="2391.70" width="48.75" height="2.60" fill="#33228c"/>
<polygon points="1694.51,2384.00 1696.01,2382.50 1697.51,2384.00 1697.51,2402.00 1696.01,2403.50 1694.51,2402.00" fill="#33228c"/>
<polygon points="1743.26,2384.00 1744.76,2382.50 1746.26,2384.00 1746.26,2402.00 1744.76,2403.50 1743.26,2402.00" fill="#33228c"/>
<rect x="1688.69" y="2436.65" width="57.49" height="2.60" fill="#33228c"/>
<polygon points="1687.19,2428.95 1688.69,2427.45 1690.19,2428.95 1690.19,2446.95 1688.69,2448.45 1687.19,2446.95" fill="#33228c"/>
<polygon points="1744.67,2428.95 1746.17,2427.45 1747.67,2428.95 1747.67,2446.95 1746.17,2448.45 1744.67,2446.95" fill="#33228c"/>
<rect x="1638.81" y="2481.60" width="103.70" height="2.60" fill="#33228c"/>
<polygon points="1637.31,2473.90 1638.81,2472.40 1640.31,2473.90 1640.31,2491.90 1638.81,2493.40 1637.31,2491.90" fill="#33228c"/>
<polygon points="1741.01,2473.90 1742.51,2472.40 1744.01,2473.90 1744.01,2491.90 1742.51,2493.40 1741.01,2491.90" fill="#33228c"/>
<rect x="1722.22" y="2526.55" width="19.16" height="2.60" fill="#33228c"/>
<polygon points="1720.72,2518.85 1722.22,2517.35 1723.72,2518.85 1723.72,2536.85 1722.22,2538.35 1720.72,2536.85" fill="#33228c"/>
<polygon points="1739.88,2518.85 1741.38,2517.35 1742.88,2518.85 1742.88,2536.85 1741.38,2538.35 1739.88,2536.85" fill="#33228c"/>
<rect x="1700.80" y="2571.50" width="40.58" height="2.60" fill="#33228c"/>
<polygon points="1699.30,2563.80 1700.80,2562.30 1702.30,2563.80 1702.30,2581.80 1700.80,2583.30 1699.30,2581.80" fill="#33228c"/>
<polygon points="1739.88,2563.80 1741.38,2562.30 1742.88,2563.80 1742.88,2581.80 1741.38,2583.30 1739.88,2581.80" fill="#33228c"/>
<rect x="1730.11" y="2616.45" width="15.78" height="2.60" fill="#33228c"/>
<polygon points="1728.61,2608.75 1730.11,2607.25 1731.61,2608.75 1731.61,2626.75 1730.11,2628.25 1728.61,2626.75" fill="#33228c"/>
<polygon points="1744.39,2608.75 1745.89,2607.25 1747.39,2608.75 1747.39,2626.75 1745.89,2628.25 1744.39,2626.75" fill="#33228c"/>
<rect x="1722.50" y="2661.40" width="23.11" height="2.60" fill="#33228c"/>
<polygon points="1721.00,2653.70 1722.50,2652.20 1724.00,2653.70 1724.00,2671.70 1722.50,2673.20 1721.00,2671.70" fill="#33228c"/>
<polygon points="1744.11,2653.70 1745.61,2652.20 1747.11,2653.70 1747.11,2671.70 1745.61,2673.20 1744.11,2671.70" fill="#33228c"/>
<rect x="1750.40" y="2706.35" width="46.50" height="2.60" fill="#933634"/>
<polygon points="1748.90,2698.65 1750.40,2697.15 1751.90,2698.65 1751.90,2716.65 1750.40,2718.15 1748.90,2716.65" fill="#933634"/>
<polygon points="1795.40,2698.65 1796.90,2697.15 1798.40,2698.65 1798.40,2716.65 1796.90,2718.15 1795.40,2716.65" fill="#933634"/>
<rect x="1750.96" y="2751.30" width="63.12" height="2.60" fill="#933634"/>
<polygon points="1749.46,2743.60 1750.96,2742.10 1752.46,2743.60 1752.46,2761.60 1750.96,2763.10 1749.46,2761.60" fill="#933634"/>
<polygon points="1812.59,2743.60 1814.09,2742.10 1815.59,2743.60 1815.59,2761.60 1814.09,2763.10 1812.59,2761.60" fill="#933634"/>
<rect x="1749.27" y="2796.25" width="41.99" height="2.60" fill="#933634"/>
<polygon points="1747.77,2788.55 1749.27,2787.05 1750.77,2788.55 1750.77,2806.55 1749.27,2808.05 1747.77,2806.55" fill="#933634"/>
<polygon points="1789.76,2788.55 1791.26,2787.05 1792.76,2788.55 1792.76,2806.55 1791.26,2808.05 1789.76,2806.55" fill="#933634"/>
<rect x="1750.12" y="2841.20" width="59.46" height="2.60" fill="#933634"/>
<polygon points="1748.62,2833.50 1750.12,2832.00 1751.62,2833.50 1751.62,2851.50 1750.12,2853.00 1748.62,2851.50" fill="#933634"/>
<polygon points="1808.08,2833.50 1809.58,2832.00 1811.08,2833.50 1811.08,2851.50 1809.58,2853.00 1808.08,2851.50" fill="#933634"/>
<rect x="1730.11" y="2886.15" width="16.63" height="2.60" fill="#33228c"/>
<polygon points="1728.61,2878.45 1730.11,2876.95 1731.61,2878.45 1731.61,2896.45 1730.11,2897.95 1728.61,2896.45" fill="#33228c"/>
<polygon points="1745.24,2878.45 1746.74,2876.95 1748.24,2878.45 1748.24,2896.45 1746.74,2897.95 1745.24,2896.45" fill="#33228c"/>
<rect x="1727.57" y="2931.10" width="19.16" height="2.60" fill="#33228c"/>
<polygon points="1726.07,2923.40 1727.57,2921.90 1729.07,2923.40 1729.07,2941.40 1727.57,2942.90 1726.07,2941.40" fill="#33228c"/>
<polygon points="1745.24,2923.40 1746.74,2921.90 1748.24,2923.40 1748.24,2941.40 1746.74,2942.90 1745.24,2941.40" fill="#33228c"/>
<rect x="1731.80" y="2976.05" width="15.22" height="2.60" fill="#33228c"/>
<polygon points="1730.30,2968.35 1731.80,2966.85 1733.30,2968.35 1733.30,2986.35 1731.80,2987.85 1730.30,2986.35" fill="#33228c"/>
<polygon points="1745.52,2968.35 1747.02,2966.85 1748.52,2968.35 1748.52,2986.35 1747.02,2987.85 1745.52,2986.35" fill="#33228c"/>
<rect x="1712.36" y="3021.00" width="34.38" height="2.60" fill="#33228c"/>
<polygon points="1710.86,3013.30 1712.36,3011.80 1713.86,3013.30 1713.86,3031.30 1712.36,3032.80 1710.86,3031.30" fill="#33228c"/>
<polygon points="1745.24,3013.30 1746.74,3011.80 1748.24,3013.30 1748.24,3031.30 1746.74,3032.80 1745.24,3031.30" fill="#33228c"/>
<ellipse cx="1712.08" cy="1763.70" rx="11.75" ry="10.50" fill="#33228c"/>
<ellipse cx="1708.13" cy="1808.65" rx="11.75" ry="10.50" fill="#33228c"/>
<ellipse cx="1742.79" cy="1853.60" rx="11.75" ry="10.50" fill="#33228c"/>
<ellipse cx="1708.13" cy="1898.55" rx="11.75" ry="10.50" fill="#33228c"/>
<ellipse cx="1738.85" cy="1943.50" rx="11.75" ry="10.50" fill="#33228c"/>
<ellipse cx="1781.12" cy="1988.45" rx="11.75" ry="10.50" fill="#933634"/>
<ellipse cx="1706.44" cy="2033.40" rx="11.75" ry="10.50" fill="#33228c"/>
<ellipse cx="1718.56" cy="2078.35" rx="11.75" ry="10.50" fill="#33228c"/>
<ellipse cx="1728.14" cy="2123.30" rx="11.75" ry="10.50" fill="#33228c"/>
<ellipse cx="1738.28" cy="2168.25" rx="11.75" ry="10.50" fill="#33228c"/>
<ellipse cx="1734.90" cy="2213.20" rx="11.75" ry="10.50" fill="#33228c"/>
<ellipse cx="1742.23" cy="2258.15" rx="11.75" ry="10.50" fill="#33228c"/>
<ellipse cx="1741.10" cy="2303.10" rx="11.75" ry="10.50" fill="#33228c"/>
<ellipse cx="1781.40" cy="2348.05" rx="11.75" ry="10.50" fill="#933634"/>
<ellipse cx="1719.12" cy="2393.00" rx="11.75" ry="10.50" fill="#33228c"/>
<ellipse cx="1715.74" cy="2437.95" rx="11.75" ry="10.50" fill="#33228c"/>
<ellipse cx="1684.74" cy="2482.90" rx="11.75" ry="10.50" fill="#33228c"/>
<ellipse cx="1731.52" cy="2527.85" rx="11.75" ry="10.50" fill="#33228c"/>
<ellipse cx="1720.25" cy="2572.80" rx="11.75" ry="10.50" fill="#33228c"/>
<ellipse cx="1738.00" cy="2617.75" rx="11.75" ry="10.50" fill="#33228c"/>
<ellipse cx="1733.77" cy="2662.70" rx="11.75" ry="10.50" fill="#33228c"/>
<ellipse cx="1772.66" cy="2707.65" rx="11.75" ry="10.50" fill="#933634"/>
<ellipse cx="1780.83" cy="2752.60" rx="11.75" ry="10.50" fill="#933634"/>
<ellipse cx="1769.56" cy="2797.55" rx="11.75" ry="10.50" fill="#933634"/>
<ellipse cx="1778.30" cy="2842.50" rx="11.75" ry="10.50" fill="#933634"/>
<ellipse cx="1738.28" cy="2887.45" rx="11.75" ry="10.50" fill="#33228c"/>
<ellipse cx="1736.87" cy="2932.40" rx="11.75" ry="10.50" fill="#33228c"/>
<ellipse cx="1739.41" cy="2977.35" rx="11.75" ry="10.50" fill="#33228c"/>
<ellipse cx="1728.98" cy="3022.30" rx="11.75" ry="10.50" fill="#33228c"/>
<rect x="28.40" y="3043.15" width="3099.90" height="2.90" fill="#000"/>
<rect x="1464.20" y="3044.60" width="2.60" height="23.00" fill="#000"/>
<text x="1456.42" y="3106.00" font-size="31.99" textLength="18.16" lengthAdjust="spacingAndGlyphs" fill="#000">0</text>
<rect x="1746.00" y="3044.60" width="2.60" height="23.00" fill="#000"/>
<text x="1738.58" y="3106.00" font-size="31.99" textLength="16.61" lengthAdjust="spacingAndGlyphs" fill="#000">1</text>
<rect x="2309.60" y="3044.60" width="2.60" height="23.00" fill="#000"/>
<text x="2302.49" y="3106.00" font-size="31.99" textLength="16.99" lengthAdjust="spacingAndGlyphs" fill="#000">3</text>
</svg>
</body></html>
